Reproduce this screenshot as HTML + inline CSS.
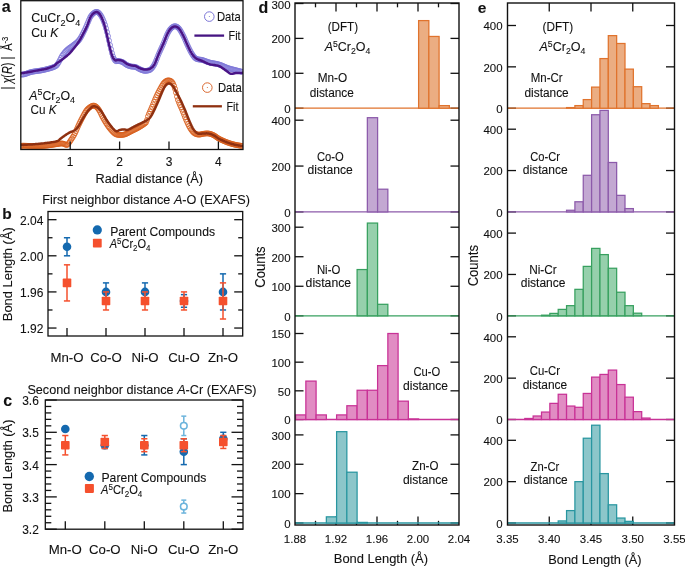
<!DOCTYPE html>
<html><head><meta charset="utf-8"><style>
html,body{margin:0;padding:0;background:#fff;width:685px;height:567px;overflow:hidden}
svg{display:block;will-change:transform}
text{font-family:"Liberation Sans",sans-serif;fill:#111;stroke:#111;stroke-width:0.1px}
</style></head><body>
<svg width="685" height="567" viewBox="0 0 685 567">
<defs><clipPath id="clipa"><rect x="20.8" y="0.7" width="222.2" height="148.8"/></clipPath></defs>
<rect width="685" height="567" fill="#fff"/>
<text x="1.8" y="11.8" font-size="16" font-weight="bold">a</text>
<text x="2.2" y="218.8" font-size="15.5" font-weight="bold">b</text>
<text x="3.2" y="406" font-size="16" font-weight="bold">c</text>
<text x="258.4" y="12.9" font-size="16" font-weight="bold">d</text>
<text x="477.8" y="13.1" font-size="15.5" font-weight="bold">e</text>
<g clip-path="url(#clipa)">
<circle cx="21" cy="74.5" r="2.5" fill="none" stroke="#8078d8" stroke-width="0.85"/>
<circle cx="22" cy="74.54" r="2.5" fill="none" stroke="#8078d8" stroke-width="0.85"/>
<circle cx="23" cy="74.53" r="2.5" fill="none" stroke="#8078d8" stroke-width="0.85"/>
<circle cx="24" cy="74.39" r="2.5" fill="none" stroke="#8078d8" stroke-width="0.85"/>
<circle cx="25" cy="74.13" r="2.5" fill="none" stroke="#8078d8" stroke-width="0.85"/>
<circle cx="26" cy="73.79" r="2.5" fill="none" stroke="#8078d8" stroke-width="0.85"/>
<circle cx="27" cy="73.41" r="2.5" fill="none" stroke="#8078d8" stroke-width="0.85"/>
<circle cx="28" cy="73.03" r="2.5" fill="none" stroke="#8078d8" stroke-width="0.85"/>
<circle cx="29" cy="72.67" r="2.5" fill="none" stroke="#8078d8" stroke-width="0.85"/>
<circle cx="30" cy="72.35" r="2.5" fill="none" stroke="#8078d8" stroke-width="0.85"/>
<circle cx="31" cy="72.07" r="2.5" fill="none" stroke="#8078d8" stroke-width="0.85"/>
<circle cx="32" cy="71.84" r="2.5" fill="none" stroke="#8078d8" stroke-width="0.85"/>
<circle cx="33" cy="71.64" r="2.5" fill="none" stroke="#8078d8" stroke-width="0.85"/>
<circle cx="34" cy="71.48" r="2.5" fill="none" stroke="#8078d8" stroke-width="0.85"/>
<circle cx="35" cy="71.33" r="2.5" fill="none" stroke="#8078d8" stroke-width="0.85"/>
<circle cx="36" cy="71.19" r="2.5" fill="none" stroke="#8078d8" stroke-width="0.85"/>
<circle cx="37" cy="71.06" r="2.5" fill="none" stroke="#8078d8" stroke-width="0.85"/>
<circle cx="38" cy="70.92" r="2.5" fill="none" stroke="#8078d8" stroke-width="0.85"/>
<circle cx="39" cy="70.78" r="2.5" fill="none" stroke="#8078d8" stroke-width="0.85"/>
<circle cx="40" cy="70.63" r="2.5" fill="none" stroke="#8078d8" stroke-width="0.85"/>
<circle cx="41" cy="70.47" r="2.5" fill="none" stroke="#8078d8" stroke-width="0.85"/>
<circle cx="42" cy="70.29" r="2.5" fill="none" stroke="#8078d8" stroke-width="0.85"/>
<circle cx="43" cy="70.09" r="2.5" fill="none" stroke="#8078d8" stroke-width="0.85"/>
<circle cx="44" cy="69.86" r="2.5" fill="none" stroke="#8078d8" stroke-width="0.85"/>
<circle cx="45" cy="69.62" r="2.5" fill="none" stroke="#8078d8" stroke-width="0.85"/>
<circle cx="46" cy="69.38" r="2.5" fill="none" stroke="#8078d8" stroke-width="0.85"/>
<circle cx="47" cy="69.13" r="2.5" fill="none" stroke="#8078d8" stroke-width="0.85"/>
<circle cx="48" cy="68.87" r="2.5" fill="none" stroke="#8078d8" stroke-width="0.85"/>
<circle cx="49" cy="68.6" r="2.5" fill="none" stroke="#8078d8" stroke-width="0.85"/>
<circle cx="50" cy="68.32" r="2.5" fill="none" stroke="#8078d8" stroke-width="0.85"/>
<circle cx="51" cy="68.02" r="2.5" fill="none" stroke="#8078d8" stroke-width="0.85"/>
<circle cx="52" cy="67.7" r="2.5" fill="none" stroke="#8078d8" stroke-width="0.85"/>
<circle cx="53" cy="67.35" r="2.5" fill="none" stroke="#8078d8" stroke-width="0.85"/>
<circle cx="54" cy="66.96" r="2.5" fill="none" stroke="#8078d8" stroke-width="0.85"/>
<circle cx="55" cy="66.5" r="2.5" fill="none" stroke="#8078d8" stroke-width="0.85"/>
<circle cx="56" cy="65.89" r="2.5" fill="none" stroke="#8078d8" stroke-width="0.85"/>
<circle cx="57" cy="65.01" r="2.5" fill="none" stroke="#8078d8" stroke-width="0.85"/>
<circle cx="58" cy="63.48" r="2.5" fill="none" stroke="#8078d8" stroke-width="0.85"/>
<circle cx="59" cy="61.78" r="2.5" fill="none" stroke="#8078d8" stroke-width="0.85"/>
<circle cx="60" cy="59.91" r="2.5" fill="none" stroke="#8078d8" stroke-width="0.85"/>
<circle cx="61" cy="57.82" r="2.5" fill="none" stroke="#8078d8" stroke-width="0.85"/>
<circle cx="62" cy="56" r="2.5" fill="none" stroke="#8078d8" stroke-width="0.85"/>
<circle cx="63" cy="54.54" r="2.5" fill="none" stroke="#8078d8" stroke-width="0.85"/>
<circle cx="64" cy="53.22" r="2.5" fill="none" stroke="#8078d8" stroke-width="0.85"/>
<circle cx="65" cy="52.01" r="2.5" fill="none" stroke="#8078d8" stroke-width="0.85"/>
<circle cx="66" cy="50.9" r="2.5" fill="none" stroke="#8078d8" stroke-width="0.85"/>
<circle cx="67" cy="49.92" r="2.5" fill="none" stroke="#8078d8" stroke-width="0.85"/>
<circle cx="68" cy="49.08" r="2.5" fill="none" stroke="#8078d8" stroke-width="0.85"/>
<circle cx="69" cy="48.31" r="2.5" fill="none" stroke="#8078d8" stroke-width="0.85"/>
<circle cx="70" cy="47.56" r="2.5" fill="none" stroke="#8078d8" stroke-width="0.85"/>
<circle cx="71" cy="46.89" r="2.5" fill="none" stroke="#8078d8" stroke-width="0.85"/>
<circle cx="72" cy="46.2" r="2.5" fill="none" stroke="#8078d8" stroke-width="0.85"/>
<circle cx="73" cy="45.42" r="2.5" fill="none" stroke="#8078d8" stroke-width="0.85"/>
<circle cx="74" cy="44.64" r="2.5" fill="none" stroke="#8078d8" stroke-width="0.85"/>
<circle cx="75" cy="43.88" r="2.5" fill="none" stroke="#8078d8" stroke-width="0.85"/>
<circle cx="76" cy="43.09" r="2.5" fill="none" stroke="#8078d8" stroke-width="0.85"/>
<circle cx="77" cy="42.24" r="2.5" fill="none" stroke="#8078d8" stroke-width="0.85"/>
<circle cx="78" cy="41.27" r="2.5" fill="none" stroke="#8078d8" stroke-width="0.85"/>
<circle cx="79" cy="40.12" r="2.5" fill="none" stroke="#8078d8" stroke-width="0.85"/>
<circle cx="80" cy="38.71" r="2.5" fill="none" stroke="#8078d8" stroke-width="0.85"/>
<circle cx="81" cy="37.07" r="2.5" fill="none" stroke="#8078d8" stroke-width="0.85"/>
<circle cx="82" cy="35.25" r="2.5" fill="none" stroke="#8078d8" stroke-width="0.85"/>
<circle cx="83" cy="33.31" r="2.5" fill="none" stroke="#8078d8" stroke-width="0.85"/>
<circle cx="84" cy="31.3" r="2.5" fill="none" stroke="#8078d8" stroke-width="0.85"/>
<circle cx="85" cy="29.26" r="2.5" fill="none" stroke="#8078d8" stroke-width="0.85"/>
<circle cx="86" cy="27" r="2.5" fill="none" stroke="#8078d8" stroke-width="0.85"/>
<circle cx="87" cy="24.59" r="2.5" fill="none" stroke="#8078d8" stroke-width="0.85"/>
<circle cx="88" cy="22.27" r="2.5" fill="none" stroke="#8078d8" stroke-width="0.85"/>
<circle cx="89" cy="19.87" r="2.5" fill="none" stroke="#8078d8" stroke-width="0.85"/>
<circle cx="90" cy="17.59" r="2.5" fill="none" stroke="#8078d8" stroke-width="0.85"/>
<circle cx="91" cy="15.94" r="2.5" fill="none" stroke="#8078d8" stroke-width="0.85"/>
<circle cx="92" cy="14.73" r="2.5" fill="none" stroke="#8078d8" stroke-width="0.85"/>
<circle cx="93" cy="13.71" r="2.5" fill="none" stroke="#8078d8" stroke-width="0.85"/>
<circle cx="94" cy="12.86" r="2.5" fill="none" stroke="#8078d8" stroke-width="0.85"/>
<circle cx="95" cy="12.21" r="2.5" fill="none" stroke="#8078d8" stroke-width="0.85"/>
<circle cx="96" cy="11.84" r="2.5" fill="none" stroke="#8078d8" stroke-width="0.85"/>
<circle cx="97" cy="11.86" r="2.5" fill="none" stroke="#8078d8" stroke-width="0.85"/>
<circle cx="98" cy="12.29" r="2.5" fill="none" stroke="#8078d8" stroke-width="0.85"/>
<circle cx="99" cy="13.11" r="2.5" fill="none" stroke="#8078d8" stroke-width="0.85"/>
<circle cx="100" cy="14.24" r="2.5" fill="none" stroke="#8078d8" stroke-width="0.85"/>
<circle cx="101" cy="15.65" r="2.5" fill="none" stroke="#8078d8" stroke-width="0.85"/>
<circle cx="102" cy="17.45" r="2.5" fill="none" stroke="#8078d8" stroke-width="0.85"/>
<circle cx="103" cy="19.62" r="2.5" fill="none" stroke="#8078d8" stroke-width="0.85"/>
<circle cx="104" cy="22.1" r="2.5" fill="none" stroke="#8078d8" stroke-width="0.85"/>
<circle cx="105" cy="24.94" r="2.5" fill="none" stroke="#8078d8" stroke-width="0.85"/>
<circle cx="106" cy="28.34" r="2.5" fill="none" stroke="#8078d8" stroke-width="0.85"/>
<circle cx="107" cy="32.13" r="2.5" fill="none" stroke="#8078d8" stroke-width="0.85"/>
<circle cx="108" cy="36.2" r="2.5" fill="none" stroke="#8078d8" stroke-width="0.85"/>
<circle cx="109" cy="40.66" r="2.5" fill="none" stroke="#8078d8" stroke-width="0.85"/>
<circle cx="110" cy="45.07" r="2.5" fill="none" stroke="#8078d8" stroke-width="0.85"/>
<circle cx="111" cy="49.2" r="2.5" fill="none" stroke="#8078d8" stroke-width="0.85"/>
<circle cx="112" cy="53.17" r="2.5" fill="none" stroke="#8078d8" stroke-width="0.85"/>
<circle cx="113" cy="56.5" r="2.5" fill="none" stroke="#8078d8" stroke-width="0.85"/>
<circle cx="114" cy="58.83" r="2.5" fill="none" stroke="#8078d8" stroke-width="0.85"/>
<circle cx="115" cy="60.37" r="2.5" fill="none" stroke="#8078d8" stroke-width="0.85"/>
<circle cx="116" cy="61.25" r="2.5" fill="none" stroke="#8078d8" stroke-width="0.85"/>
<circle cx="117" cy="61.11" r="2.5" fill="none" stroke="#8078d8" stroke-width="0.85"/>
<circle cx="118" cy="61" r="2.5" fill="none" stroke="#8078d8" stroke-width="0.85"/>
<circle cx="119" cy="61.14" r="2.5" fill="none" stroke="#8078d8" stroke-width="0.85"/>
<circle cx="120" cy="61.3" r="2.5" fill="none" stroke="#8078d8" stroke-width="0.85"/>
<circle cx="121" cy="61.52" r="2.5" fill="none" stroke="#8078d8" stroke-width="0.85"/>
<circle cx="122" cy="61.83" r="2.5" fill="none" stroke="#8078d8" stroke-width="0.85"/>
<circle cx="123" cy="62.32" r="2.5" fill="none" stroke="#8078d8" stroke-width="0.85"/>
<circle cx="124" cy="63.01" r="2.5" fill="none" stroke="#8078d8" stroke-width="0.85"/>
<circle cx="125" cy="63.78" r="2.5" fill="none" stroke="#8078d8" stroke-width="0.85"/>
<circle cx="126" cy="64.51" r="2.5" fill="none" stroke="#8078d8" stroke-width="0.85"/>
<circle cx="127" cy="65.1" r="2.5" fill="none" stroke="#8078d8" stroke-width="0.85"/>
<circle cx="128" cy="65.55" r="2.5" fill="none" stroke="#8078d8" stroke-width="0.85"/>
<circle cx="129" cy="65.92" r="2.5" fill="none" stroke="#8078d8" stroke-width="0.85"/>
<circle cx="130" cy="66.22" r="2.5" fill="none" stroke="#8078d8" stroke-width="0.85"/>
<circle cx="131" cy="66.48" r="2.5" fill="none" stroke="#8078d8" stroke-width="0.85"/>
<circle cx="132" cy="66.64" r="2.5" fill="none" stroke="#8078d8" stroke-width="0.85"/>
<circle cx="133" cy="66.69" r="2.5" fill="none" stroke="#8078d8" stroke-width="0.85"/>
<circle cx="134" cy="66.74" r="2.5" fill="none" stroke="#8078d8" stroke-width="0.85"/>
<circle cx="135" cy="66.87" r="2.5" fill="none" stroke="#8078d8" stroke-width="0.85"/>
<circle cx="136" cy="67.19" r="2.5" fill="none" stroke="#8078d8" stroke-width="0.85"/>
<circle cx="137" cy="67.68" r="2.5" fill="none" stroke="#8078d8" stroke-width="0.85"/>
<circle cx="138" cy="68.27" r="2.5" fill="none" stroke="#8078d8" stroke-width="0.85"/>
<circle cx="139" cy="68.85" r="2.5" fill="none" stroke="#8078d8" stroke-width="0.85"/>
<circle cx="140" cy="69.34" r="2.5" fill="none" stroke="#8078d8" stroke-width="0.85"/>
<circle cx="141" cy="69.77" r="2.5" fill="none" stroke="#8078d8" stroke-width="0.85"/>
<circle cx="142" cy="70.16" r="2.5" fill="none" stroke="#8078d8" stroke-width="0.85"/>
<circle cx="143" cy="70.5" r="2.5" fill="none" stroke="#8078d8" stroke-width="0.85"/>
<circle cx="144" cy="70.75" r="2.5" fill="none" stroke="#8078d8" stroke-width="0.85"/>
<circle cx="145" cy="70.86" r="2.5" fill="none" stroke="#8078d8" stroke-width="0.85"/>
<circle cx="146" cy="70.84" r="2.5" fill="none" stroke="#8078d8" stroke-width="0.85"/>
<circle cx="147" cy="70.71" r="2.5" fill="none" stroke="#8078d8" stroke-width="0.85"/>
<circle cx="148" cy="70.5" r="2.5" fill="none" stroke="#8078d8" stroke-width="0.85"/>
<circle cx="149" cy="70.3" r="2.5" fill="none" stroke="#8078d8" stroke-width="0.85"/>
<circle cx="150" cy="69.92" r="2.5" fill="none" stroke="#8078d8" stroke-width="0.85"/>
<circle cx="151" cy="69.11" r="2.5" fill="none" stroke="#8078d8" stroke-width="0.85"/>
<circle cx="152" cy="68.05" r="2.5" fill="none" stroke="#8078d8" stroke-width="0.85"/>
<circle cx="153" cy="66.75" r="2.5" fill="none" stroke="#8078d8" stroke-width="0.85"/>
<circle cx="154" cy="65.14" r="2.5" fill="none" stroke="#8078d8" stroke-width="0.85"/>
<circle cx="155" cy="63.14" r="2.5" fill="none" stroke="#8078d8" stroke-width="0.85"/>
<circle cx="156" cy="60.78" r="2.5" fill="none" stroke="#8078d8" stroke-width="0.85"/>
<circle cx="157" cy="58.25" r="2.5" fill="none" stroke="#8078d8" stroke-width="0.85"/>
<circle cx="158" cy="55.73" r="2.5" fill="none" stroke="#8078d8" stroke-width="0.85"/>
<circle cx="159" cy="53.34" r="2.5" fill="none" stroke="#8078d8" stroke-width="0.85"/>
<circle cx="160" cy="51.12" r="2.5" fill="none" stroke="#8078d8" stroke-width="0.85"/>
<circle cx="161" cy="48.95" r="2.5" fill="none" stroke="#8078d8" stroke-width="0.85"/>
<circle cx="162" cy="46.78" r="2.5" fill="none" stroke="#8078d8" stroke-width="0.85"/>
<circle cx="163" cy="44.56" r="2.5" fill="none" stroke="#8078d8" stroke-width="0.85"/>
<circle cx="164" cy="42.18" r="2.5" fill="none" stroke="#8078d8" stroke-width="0.85"/>
<circle cx="165" cy="39.67" r="2.5" fill="none" stroke="#8078d8" stroke-width="0.85"/>
<circle cx="166" cy="37.15" r="2.5" fill="none" stroke="#8078d8" stroke-width="0.85"/>
<circle cx="167" cy="34.78" r="2.5" fill="none" stroke="#8078d8" stroke-width="0.85"/>
<circle cx="168" cy="32.72" r="2.5" fill="none" stroke="#8078d8" stroke-width="0.85"/>
<circle cx="169" cy="30.98" r="2.5" fill="none" stroke="#8078d8" stroke-width="0.85"/>
<circle cx="170" cy="29.54" r="2.5" fill="none" stroke="#8078d8" stroke-width="0.85"/>
<circle cx="171" cy="28.4" r="2.5" fill="none" stroke="#8078d8" stroke-width="0.85"/>
<circle cx="172" cy="27.48" r="2.5" fill="none" stroke="#8078d8" stroke-width="0.85"/>
<circle cx="173" cy="26.79" r="2.5" fill="none" stroke="#8078d8" stroke-width="0.85"/>
<circle cx="174" cy="26.34" r="2.5" fill="none" stroke="#8078d8" stroke-width="0.85"/>
<circle cx="175" cy="26.2" r="2.5" fill="none" stroke="#8078d8" stroke-width="0.85"/>
<circle cx="176" cy="26.37" r="2.5" fill="none" stroke="#8078d8" stroke-width="0.85"/>
<circle cx="177" cy="26.82" r="2.5" fill="none" stroke="#8078d8" stroke-width="0.85"/>
<circle cx="178" cy="27.56" r="2.5" fill="none" stroke="#8078d8" stroke-width="0.85"/>
<circle cx="179" cy="28.59" r="2.5" fill="none" stroke="#8078d8" stroke-width="0.85"/>
<circle cx="180" cy="29.92" r="2.5" fill="none" stroke="#8078d8" stroke-width="0.85"/>
<circle cx="181" cy="31.54" r="2.5" fill="none" stroke="#8078d8" stroke-width="0.85"/>
<circle cx="182" cy="33.33" r="2.5" fill="none" stroke="#8078d8" stroke-width="0.85"/>
<circle cx="183" cy="35.23" r="2.5" fill="none" stroke="#8078d8" stroke-width="0.85"/>
<circle cx="184" cy="37.22" r="2.5" fill="none" stroke="#8078d8" stroke-width="0.85"/>
<circle cx="185" cy="39.47" r="2.5" fill="none" stroke="#8078d8" stroke-width="0.85"/>
<circle cx="186" cy="41.86" r="2.5" fill="none" stroke="#8078d8" stroke-width="0.85"/>
<circle cx="187" cy="44.1" r="2.5" fill="none" stroke="#8078d8" stroke-width="0.85"/>
<circle cx="188" cy="46.24" r="2.5" fill="none" stroke="#8078d8" stroke-width="0.85"/>
<circle cx="189" cy="48.35" r="2.5" fill="none" stroke="#8078d8" stroke-width="0.85"/>
<circle cx="190" cy="50.37" r="2.5" fill="none" stroke="#8078d8" stroke-width="0.85"/>
<circle cx="191" cy="52.22" r="2.5" fill="none" stroke="#8078d8" stroke-width="0.85"/>
<circle cx="192" cy="53.88" r="2.5" fill="none" stroke="#8078d8" stroke-width="0.85"/>
<circle cx="193" cy="55.46" r="2.5" fill="none" stroke="#8078d8" stroke-width="0.85"/>
<circle cx="194" cy="56.83" r="2.5" fill="none" stroke="#8078d8" stroke-width="0.85"/>
<circle cx="195" cy="57.89" r="2.5" fill="none" stroke="#8078d8" stroke-width="0.85"/>
<circle cx="196" cy="58.66" r="2.5" fill="none" stroke="#8078d8" stroke-width="0.85"/>
<circle cx="197" cy="59.12" r="2.5" fill="none" stroke="#8078d8" stroke-width="0.85"/>
<circle cx="198" cy="59.37" r="2.5" fill="none" stroke="#8078d8" stroke-width="0.85"/>
<circle cx="199" cy="59.51" r="2.5" fill="none" stroke="#8078d8" stroke-width="0.85"/>
<circle cx="200" cy="59.61" r="2.5" fill="none" stroke="#8078d8" stroke-width="0.85"/>
<circle cx="201" cy="59.73" r="2.5" fill="none" stroke="#8078d8" stroke-width="0.85"/>
<circle cx="202" cy="59.93" r="2.5" fill="none" stroke="#8078d8" stroke-width="0.85"/>
<circle cx="203" cy="60.21" r="2.5" fill="none" stroke="#8078d8" stroke-width="0.85"/>
<circle cx="204" cy="60.56" r="2.5" fill="none" stroke="#8078d8" stroke-width="0.85"/>
<circle cx="205" cy="60.93" r="2.5" fill="none" stroke="#8078d8" stroke-width="0.85"/>
<circle cx="206" cy="61.3" r="2.5" fill="none" stroke="#8078d8" stroke-width="0.85"/>
<circle cx="207" cy="61.67" r="2.5" fill="none" stroke="#8078d8" stroke-width="0.85"/>
<circle cx="208" cy="62.02" r="2.5" fill="none" stroke="#8078d8" stroke-width="0.85"/>
<circle cx="209" cy="62.33" r="2.5" fill="none" stroke="#8078d8" stroke-width="0.85"/>
<circle cx="210" cy="62.6" r="2.5" fill="none" stroke="#8078d8" stroke-width="0.85"/>
<circle cx="211" cy="62.83" r="2.5" fill="none" stroke="#8078d8" stroke-width="0.85"/>
<circle cx="212" cy="63.03" r="2.5" fill="none" stroke="#8078d8" stroke-width="0.85"/>
<circle cx="213" cy="63.21" r="2.5" fill="none" stroke="#8078d8" stroke-width="0.85"/>
<circle cx="214" cy="63.39" r="2.5" fill="none" stroke="#8078d8" stroke-width="0.85"/>
<circle cx="215" cy="63.57" r="2.5" fill="none" stroke="#8078d8" stroke-width="0.85"/>
<circle cx="216" cy="63.76" r="2.5" fill="none" stroke="#8078d8" stroke-width="0.85"/>
<circle cx="217" cy="63.97" r="2.5" fill="none" stroke="#8078d8" stroke-width="0.85"/>
<circle cx="218" cy="64.2" r="2.5" fill="none" stroke="#8078d8" stroke-width="0.85"/>
<circle cx="219" cy="64.47" r="2.5" fill="none" stroke="#8078d8" stroke-width="0.85"/>
<circle cx="220" cy="64.79" r="2.5" fill="none" stroke="#8078d8" stroke-width="0.85"/>
<circle cx="221" cy="65.16" r="2.5" fill="none" stroke="#8078d8" stroke-width="0.85"/>
<circle cx="222" cy="65.57" r="2.5" fill="none" stroke="#8078d8" stroke-width="0.85"/>
<circle cx="223" cy="65.99" r="2.5" fill="none" stroke="#8078d8" stroke-width="0.85"/>
<circle cx="224" cy="66.43" r="2.5" fill="none" stroke="#8078d8" stroke-width="0.85"/>
<circle cx="225" cy="66.87" r="2.5" fill="none" stroke="#8078d8" stroke-width="0.85"/>
<circle cx="226" cy="67.3" r="2.5" fill="none" stroke="#8078d8" stroke-width="0.85"/>
<circle cx="227" cy="67.71" r="2.5" fill="none" stroke="#8078d8" stroke-width="0.85"/>
<circle cx="228" cy="68.07" r="2.5" fill="none" stroke="#8078d8" stroke-width="0.85"/>
<circle cx="229" cy="68.39" r="2.5" fill="none" stroke="#8078d8" stroke-width="0.85"/>
<circle cx="230" cy="68.69" r="2.5" fill="none" stroke="#8078d8" stroke-width="0.85"/>
<circle cx="231" cy="68.96" r="2.5" fill="none" stroke="#8078d8" stroke-width="0.85"/>
<circle cx="232" cy="69.22" r="2.5" fill="none" stroke="#8078d8" stroke-width="0.85"/>
<circle cx="233" cy="69.47" r="2.5" fill="none" stroke="#8078d8" stroke-width="0.85"/>
<circle cx="234" cy="69.72" r="2.5" fill="none" stroke="#8078d8" stroke-width="0.85"/>
<circle cx="235" cy="69.97" r="2.5" fill="none" stroke="#8078d8" stroke-width="0.85"/>
<circle cx="236" cy="70.24" r="2.5" fill="none" stroke="#8078d8" stroke-width="0.85"/>
<circle cx="237" cy="70.5" r="2.5" fill="none" stroke="#8078d8" stroke-width="0.85"/>
<circle cx="238" cy="70.76" r="2.5" fill="none" stroke="#8078d8" stroke-width="0.85"/>
<circle cx="239" cy="71.01" r="2.5" fill="none" stroke="#8078d8" stroke-width="0.85"/>
<circle cx="240" cy="71.27" r="2.5" fill="none" stroke="#8078d8" stroke-width="0.85"/>
<circle cx="241" cy="71.52" r="2.5" fill="none" stroke="#8078d8" stroke-width="0.85"/>
<circle cx="242" cy="71.78" r="2.5" fill="none" stroke="#8078d8" stroke-width="0.85"/>
<path d="M21,73.2 L21.16,73.19 L21.31,73.18 L21.46,73.17 L21.65,73.16 L21.88,73.15 L22.18,73.12 L22.56,73.08 L23.04,73.01 L23.65,72.92 L24.4,72.8 L25.34,72.64 L26.47,72.44 L27.75,72.2 L29.15,71.95 L30.61,71.68 L32.1,71.41 L33.58,71.13 L35,70.87 L36.32,70.62 L37.5,70.4 L38.56,70.21 L39.55,70.03 L40.49,69.88 L41.39,69.73 L42.24,69.58 L43.07,69.43 L43.88,69.28 L44.69,69.11 L45.49,68.92 L46.3,68.7 L47.13,68.46 L47.97,68.19 L48.81,67.91 L49.64,67.61 L50.46,67.31 L51.24,67 L51.99,66.69 L52.69,66.38 L53.33,66.08 L53.9,65.8 L54.38,65.54 L54.76,65.29 L55.06,65.05 L55.32,64.82 L55.54,64.59 L55.75,64.36 L55.98,64.1 L56.25,63.83 L56.58,63.53 L57,63.2 L57.49,62.84 L58.04,62.45 L58.63,62.04 L59.26,61.61 L59.91,61.17 L60.57,60.71 L61.24,60.24 L61.91,59.77 L62.57,59.28 L63.2,58.8 L63.82,58.31 L64.45,57.81 L65.09,57.3 L65.72,56.79 L66.36,56.26 L66.98,55.73 L67.61,55.18 L68.22,54.63 L68.82,54.07 L69.4,53.5 L69.97,52.92 L70.53,52.32 L71.08,51.71 L71.63,51.08 L72.16,50.46 L72.69,49.82 L73.2,49.19 L73.71,48.55 L74.21,47.92 L74.7,47.3 L75.18,46.69 L75.64,46.09 L76.09,45.49 L76.52,44.9 L76.96,44.31 L77.38,43.7 L77.81,43.08 L78.23,42.45 L78.66,41.79 L79.1,41.1 L79.54,40.37 L79.99,39.61 L80.45,38.83 L80.9,38.02 L81.36,37.2 L81.8,36.38 L82.25,35.56 L82.68,34.75 L83.1,33.96 L83.5,33.2 L83.88,32.48 L84.25,31.79 L84.6,31.13 L84.94,30.48 L85.27,29.84 L85.6,29.18 L85.93,28.5 L86.28,27.78 L86.63,27.02 L87,26.2 L87.38,25.29 L87.77,24.28 L88.15,23.21 L88.55,22.1 L88.95,20.97 L89.36,19.86 L89.78,18.79 L90.21,17.79 L90.65,16.88 L91.1,16.1 L91.57,15.42 L92.07,14.78 L92.59,14.21 L93.12,13.69 L93.66,13.24 L94.19,12.85 L94.72,12.53 L95.23,12.28 L95.73,12.1 L96.2,12 L96.65,11.98 L97.08,12.05 L97.5,12.19 L97.9,12.41 L98.3,12.69 L98.69,13.04 L99.07,13.43 L99.45,13.88 L99.83,14.37 L100.2,14.9 L100.57,15.48 L100.94,16.14 L101.31,16.85 L101.67,17.62 L102.02,18.43 L102.37,19.28 L102.72,20.16 L103.05,21.06 L103.38,21.98 L103.7,22.9 L104.01,23.83 L104.3,24.79 L104.59,25.77 L104.87,26.78 L105.14,27.81 L105.41,28.87 L105.67,29.94 L105.94,31.04 L106.22,32.16 L106.5,33.3 L106.79,34.48 L107.07,35.72 L107.36,36.99 L107.65,38.29 L107.94,39.61 L108.24,40.92 L108.53,42.22 L108.82,43.49 L109.11,44.72 L109.4,45.9 L109.69,47.05 L109.98,48.21 L110.27,49.36 L110.56,50.49 L110.86,51.59 L111.15,52.64 L111.44,53.65 L111.73,54.58 L112.01,55.44 L112.3,56.2 L112.58,56.87 L112.86,57.47 L113.14,58 L113.42,58.46 L113.7,58.86 L113.98,59.2 L114.26,59.51 L114.54,59.77 L114.82,60 L115.1,60.2 L115.38,60.35 L115.65,60.41 L115.92,60.42 L116.18,60.37 L116.45,60.3 L116.73,60.21 L117.02,60.12 L117.32,60.04 L117.65,60 L118,60 L118.38,60.03 L118.78,60.06 L119.21,60.1 L119.65,60.14 L120.11,60.2 L120.57,60.27 L121.03,60.37 L121.5,60.48 L121.95,60.63 L122.4,60.8 L122.84,61.02 L123.28,61.28 L123.72,61.58 L124.16,61.91 L124.61,62.25 L125.05,62.6 L125.49,62.93 L125.93,63.25 L126.36,63.55 L126.8,63.8 L127.23,64.02 L127.66,64.23 L128.09,64.41 L128.52,64.59 L128.95,64.75 L129.38,64.9 L129.81,65.04 L130.24,65.17 L130.67,65.29 L131.1,65.4 L131.54,65.49 L131.97,65.56 L132.41,65.6 L132.85,65.64 L133.29,65.66 L133.74,65.69 L134.18,65.73 L134.62,65.79 L135.06,65.88 L135.5,66 L135.94,66.16 L136.38,66.35 L136.82,66.57 L137.26,66.81 L137.7,67.06 L138.14,67.31 L138.58,67.56 L139.02,67.79 L139.46,68.01 L139.9,68.2 L140.34,68.37 L140.79,68.54 L141.24,68.7 L141.69,68.86 L142.14,69 L142.59,69.13 L143.03,69.25 L143.46,69.35 L143.89,69.43 L144.3,69.5 L144.7,69.54 L145.1,69.57 L145.49,69.58 L145.87,69.57 L146.25,69.54 L146.62,69.51 L146.98,69.47 L147.33,69.42 L147.67,69.36 L148,69.3 L148.31,69.25 L148.6,69.2 L148.88,69.15 L149.15,69.1 L149.41,69.03 L149.67,68.95 L149.93,68.84 L150.2,68.7 L150.49,68.52 L150.8,68.3 L151.12,68.06 L151.46,67.81 L151.8,67.55 L152.14,67.27 L152.5,66.95 L152.86,66.58 L153.24,66.15 L153.62,65.66 L154,65.07 L154.4,64.4 L154.81,63.61 L155.23,62.69 L155.66,61.68 L156.1,60.6 L156.55,59.46 L157,58.3 L157.45,57.12 L157.91,55.97 L158.36,54.85 L158.8,53.8 L159.24,52.8 L159.68,51.82 L160.12,50.85 L160.56,49.9 L161,48.95 L161.44,48 L161.88,47.05 L162.32,46.08 L162.76,45.1 L163.2,44.1 L163.64,43.05 L164.09,41.95 L164.55,40.82 L165,39.67 L165.45,38.53 L165.9,37.4 L166.34,36.32 L166.77,35.3 L167.19,34.35 L167.6,33.5 L167.99,32.74 L168.37,32.04 L168.73,31.41 L169.08,30.83 L169.43,30.29 L169.78,29.81 L170.12,29.36 L170.47,28.94 L170.83,28.56 L171.2,28.2 L171.58,27.87 L171.96,27.57 L172.34,27.3 L172.73,27.07 L173.12,26.88 L173.52,26.73 L173.91,26.61 L174.31,26.53 L174.7,26.5 L175.1,26.5 L175.49,26.54 L175.89,26.61 L176.28,26.71 L176.67,26.84 L177.07,27.02 L177.47,27.25 L177.87,27.53 L178.27,27.86 L178.68,28.25 L179.1,28.7 L179.53,29.23 L179.97,29.85 L180.42,30.55 L180.87,31.3 L181.33,32.09 L181.79,32.92 L182.23,33.75 L182.67,34.59 L183.09,35.41 L183.5,36.2 L183.88,36.97 L184.24,37.74 L184.59,38.51 L184.92,39.29 L185.25,40.07 L185.58,40.86 L185.91,41.65 L186.26,42.46 L186.62,43.27 L187,44.1 L187.4,44.96 L187.82,45.86 L188.25,46.78 L188.69,47.72 L189.14,48.66 L189.59,49.59 L190.04,50.49 L190.5,51.35 L190.95,52.16 L191.4,52.9 L191.84,53.58 L192.26,54.22 L192.68,54.83 L193.1,55.39 L193.53,55.92 L193.96,56.43 L194.41,56.9 L194.88,57.36 L195.37,57.79 L195.9,58.2 L196.46,58.58 L197.04,58.91 L197.65,59.21 L198.28,59.48 L198.93,59.73 L199.58,59.97 L200.25,60.21 L200.93,60.45 L201.61,60.72 L202.3,61 L202.98,61.31 L203.67,61.64 L204.35,61.97 L205.05,62.31 L205.76,62.66 L206.48,62.99 L207.22,63.32 L207.98,63.64 L208.78,63.93 L209.6,64.2 L210.47,64.43 L211.41,64.62 L212.38,64.79 L213.38,64.94 L214.39,65.08 L215.4,65.23 L216.39,65.39 L217.35,65.59 L218.26,65.82 L219.1,66.1 L219.88,66.44 L220.63,66.82 L221.34,67.25 L222.02,67.7 L222.68,68.16 L223.31,68.64 L223.92,69.11 L224.52,69.57 L225.11,70 L225.7,70.4 L226.27,70.79 L226.82,71.19 L227.34,71.59 L227.85,71.98 L228.34,72.36 L228.83,72.72 L229.32,73.04 L229.8,73.31 L230.3,73.54 L230.8,73.7 L231.31,73.79 L231.83,73.8 L232.35,73.76 L232.87,73.67 L233.39,73.56 L233.91,73.42 L234.42,73.28 L234.92,73.16 L235.42,73.06 L235.9,73 L236.38,72.97 L236.85,72.96 L237.33,72.95 L237.79,72.96 L238.25,72.97 L238.7,72.98 L239.13,72.99 L239.54,73 L239.93,73 L240.3,73 L240.65,72.99 L240.99,72.97 L241.32,72.95 L241.63,72.92 L241.93,72.9 L242.2,72.88 L242.44,72.85 L242.66,72.83 L242.85,72.81 L243,72.8" fill="none" stroke="#4a1486" stroke-width="2.5" stroke-linejoin="round" stroke-linecap="round"/>
<circle cx="21" cy="146" r="2.5" fill="none" stroke="#d8601e" stroke-width="0.85"/>
<circle cx="22" cy="145.72" r="2.5" fill="none" stroke="#d8601e" stroke-width="0.85"/>
<circle cx="23" cy="145.7" r="2.5" fill="none" stroke="#d8601e" stroke-width="0.85"/>
<circle cx="24" cy="145.72" r="2.5" fill="none" stroke="#d8601e" stroke-width="0.85"/>
<circle cx="25" cy="145.74" r="2.5" fill="none" stroke="#d8601e" stroke-width="0.85"/>
<circle cx="26" cy="145.77" r="2.5" fill="none" stroke="#d8601e" stroke-width="0.85"/>
<circle cx="27" cy="145.81" r="2.5" fill="none" stroke="#d8601e" stroke-width="0.85"/>
<circle cx="28" cy="145.84" r="2.5" fill="none" stroke="#d8601e" stroke-width="0.85"/>
<circle cx="29" cy="145.88" r="2.5" fill="none" stroke="#d8601e" stroke-width="0.85"/>
<circle cx="30" cy="145.91" r="2.5" fill="none" stroke="#d8601e" stroke-width="0.85"/>
<circle cx="31" cy="145.94" r="2.5" fill="none" stroke="#d8601e" stroke-width="0.85"/>
<circle cx="32" cy="145.96" r="2.5" fill="none" stroke="#d8601e" stroke-width="0.85"/>
<circle cx="33" cy="145.98" r="2.5" fill="none" stroke="#d8601e" stroke-width="0.85"/>
<circle cx="34" cy="146" r="2.5" fill="none" stroke="#d8601e" stroke-width="0.85"/>
<circle cx="35" cy="146" r="2.5" fill="none" stroke="#d8601e" stroke-width="0.85"/>
<circle cx="36" cy="146" r="2.5" fill="none" stroke="#d8601e" stroke-width="0.85"/>
<circle cx="37" cy="146" r="2.5" fill="none" stroke="#d8601e" stroke-width="0.85"/>
<circle cx="38" cy="145.99" r="2.5" fill="none" stroke="#d8601e" stroke-width="0.85"/>
<circle cx="39" cy="145.98" r="2.5" fill="none" stroke="#d8601e" stroke-width="0.85"/>
<circle cx="40" cy="145.96" r="2.5" fill="none" stroke="#d8601e" stroke-width="0.85"/>
<circle cx="41" cy="145.94" r="2.5" fill="none" stroke="#d8601e" stroke-width="0.85"/>
<circle cx="42" cy="145.91" r="2.5" fill="none" stroke="#d8601e" stroke-width="0.85"/>
<circle cx="43" cy="145.86" r="2.5" fill="none" stroke="#d8601e" stroke-width="0.85"/>
<circle cx="44" cy="145.81" r="2.5" fill="none" stroke="#d8601e" stroke-width="0.85"/>
<circle cx="45" cy="145.74" r="2.5" fill="none" stroke="#d8601e" stroke-width="0.85"/>
<circle cx="46" cy="145.65" r="2.5" fill="none" stroke="#d8601e" stroke-width="0.85"/>
<circle cx="47" cy="145.55" r="2.5" fill="none" stroke="#d8601e" stroke-width="0.85"/>
<circle cx="48" cy="145.44" r="2.5" fill="none" stroke="#d8601e" stroke-width="0.85"/>
<circle cx="49" cy="145.31" r="2.5" fill="none" stroke="#d8601e" stroke-width="0.85"/>
<circle cx="50" cy="145.17" r="2.5" fill="none" stroke="#d8601e" stroke-width="0.85"/>
<circle cx="51" cy="145.02" r="2.5" fill="none" stroke="#d8601e" stroke-width="0.85"/>
<circle cx="52" cy="144.87" r="2.5" fill="none" stroke="#d8601e" stroke-width="0.85"/>
<circle cx="53" cy="144.72" r="2.5" fill="none" stroke="#d8601e" stroke-width="0.85"/>
<circle cx="54" cy="144.56" r="2.5" fill="none" stroke="#d8601e" stroke-width="0.85"/>
<circle cx="55" cy="144.41" r="2.5" fill="none" stroke="#d8601e" stroke-width="0.85"/>
<circle cx="56" cy="144.27" r="2.5" fill="none" stroke="#d8601e" stroke-width="0.85"/>
<circle cx="57" cy="144.13" r="2.5" fill="none" stroke="#d8601e" stroke-width="0.85"/>
<circle cx="58" cy="143.98" r="2.5" fill="none" stroke="#d8601e" stroke-width="0.85"/>
<circle cx="59" cy="143.8" r="2.5" fill="none" stroke="#d8601e" stroke-width="0.85"/>
<circle cx="60" cy="143.63" r="2.5" fill="none" stroke="#d8601e" stroke-width="0.85"/>
<circle cx="61" cy="143.51" r="2.5" fill="none" stroke="#d8601e" stroke-width="0.85"/>
<circle cx="62" cy="143.49" r="2.5" fill="none" stroke="#d8601e" stroke-width="0.85"/>
<circle cx="63" cy="143.62" r="2.5" fill="none" stroke="#d8601e" stroke-width="0.85"/>
<circle cx="64" cy="143.95" r="2.5" fill="none" stroke="#d8601e" stroke-width="0.85"/>
<circle cx="65" cy="144.39" r="2.5" fill="none" stroke="#d8601e" stroke-width="0.85"/>
<circle cx="66" cy="144.82" r="2.5" fill="none" stroke="#d8601e" stroke-width="0.85"/>
<circle cx="67" cy="144.99" r="2.5" fill="none" stroke="#d8601e" stroke-width="0.85"/>
<circle cx="68" cy="144.23" r="2.5" fill="none" stroke="#d8601e" stroke-width="0.85"/>
<circle cx="69" cy="142.87" r="2.5" fill="none" stroke="#d8601e" stroke-width="0.85"/>
<circle cx="70" cy="141.43" r="2.5" fill="none" stroke="#d8601e" stroke-width="0.85"/>
<circle cx="71" cy="139.89" r="2.5" fill="none" stroke="#d8601e" stroke-width="0.85"/>
<circle cx="72" cy="138.35" r="2.5" fill="none" stroke="#d8601e" stroke-width="0.85"/>
<circle cx="73" cy="136.78" r="2.5" fill="none" stroke="#d8601e" stroke-width="0.85"/>
<circle cx="74" cy="135.09" r="2.5" fill="none" stroke="#d8601e" stroke-width="0.85"/>
<circle cx="75" cy="133.2" r="2.5" fill="none" stroke="#d8601e" stroke-width="0.85"/>
<circle cx="76" cy="131.03" r="2.5" fill="none" stroke="#d8601e" stroke-width="0.85"/>
<circle cx="77" cy="128.72" r="2.5" fill="none" stroke="#d8601e" stroke-width="0.85"/>
<circle cx="78" cy="126.42" r="2.5" fill="none" stroke="#d8601e" stroke-width="0.85"/>
<circle cx="79" cy="124.26" r="2.5" fill="none" stroke="#d8601e" stroke-width="0.85"/>
<circle cx="80" cy="122.19" r="2.5" fill="none" stroke="#d8601e" stroke-width="0.85"/>
<circle cx="81" cy="120.19" r="2.5" fill="none" stroke="#d8601e" stroke-width="0.85"/>
<circle cx="82" cy="118.25" r="2.5" fill="none" stroke="#d8601e" stroke-width="0.85"/>
<circle cx="83" cy="116.36" r="2.5" fill="none" stroke="#d8601e" stroke-width="0.85"/>
<circle cx="84" cy="114.47" r="2.5" fill="none" stroke="#d8601e" stroke-width="0.85"/>
<circle cx="85" cy="112.67" r="2.5" fill="none" stroke="#d8601e" stroke-width="0.85"/>
<circle cx="86" cy="111.06" r="2.5" fill="none" stroke="#d8601e" stroke-width="0.85"/>
<circle cx="87" cy="109.76" r="2.5" fill="none" stroke="#d8601e" stroke-width="0.85"/>
<circle cx="88" cy="108.71" r="2.5" fill="none" stroke="#d8601e" stroke-width="0.85"/>
<circle cx="89" cy="107.86" r="2.5" fill="none" stroke="#d8601e" stroke-width="0.85"/>
<circle cx="90" cy="107.14" r="2.5" fill="none" stroke="#d8601e" stroke-width="0.85"/>
<circle cx="91" cy="106.49" r="2.5" fill="none" stroke="#d8601e" stroke-width="0.85"/>
<circle cx="92" cy="105.98" r="2.5" fill="none" stroke="#d8601e" stroke-width="0.85"/>
<circle cx="93" cy="105.66" r="2.5" fill="none" stroke="#d8601e" stroke-width="0.85"/>
<circle cx="94" cy="105.63" r="2.5" fill="none" stroke="#d8601e" stroke-width="0.85"/>
<circle cx="95" cy="105.95" r="2.5" fill="none" stroke="#d8601e" stroke-width="0.85"/>
<circle cx="96" cy="106.59" r="2.5" fill="none" stroke="#d8601e" stroke-width="0.85"/>
<circle cx="97" cy="107.46" r="2.5" fill="none" stroke="#d8601e" stroke-width="0.85"/>
<circle cx="98" cy="108.6" r="2.5" fill="none" stroke="#d8601e" stroke-width="0.85"/>
<circle cx="99" cy="110.02" r="2.5" fill="none" stroke="#d8601e" stroke-width="0.85"/>
<circle cx="100" cy="111.77" r="2.5" fill="none" stroke="#d8601e" stroke-width="0.85"/>
<circle cx="101" cy="113.84" r="2.5" fill="none" stroke="#d8601e" stroke-width="0.85"/>
<circle cx="102" cy="115.92" r="2.5" fill="none" stroke="#d8601e" stroke-width="0.85"/>
<circle cx="103" cy="117.81" r="2.5" fill="none" stroke="#d8601e" stroke-width="0.85"/>
<circle cx="104" cy="119.63" r="2.5" fill="none" stroke="#d8601e" stroke-width="0.85"/>
<circle cx="105" cy="121.34" r="2.5" fill="none" stroke="#d8601e" stroke-width="0.85"/>
<circle cx="106" cy="122.96" r="2.5" fill="none" stroke="#d8601e" stroke-width="0.85"/>
<circle cx="107" cy="124.52" r="2.5" fill="none" stroke="#d8601e" stroke-width="0.85"/>
<circle cx="108" cy="126" r="2.5" fill="none" stroke="#d8601e" stroke-width="0.85"/>
<circle cx="109" cy="127.37" r="2.5" fill="none" stroke="#d8601e" stroke-width="0.85"/>
<circle cx="110" cy="128.63" r="2.5" fill="none" stroke="#d8601e" stroke-width="0.85"/>
<circle cx="111" cy="129.82" r="2.5" fill="none" stroke="#d8601e" stroke-width="0.85"/>
<circle cx="112" cy="130.95" r="2.5" fill="none" stroke="#d8601e" stroke-width="0.85"/>
<circle cx="113" cy="132.01" r="2.5" fill="none" stroke="#d8601e" stroke-width="0.85"/>
<circle cx="114" cy="132.96" r="2.5" fill="none" stroke="#d8601e" stroke-width="0.85"/>
<circle cx="115" cy="133.77" r="2.5" fill="none" stroke="#d8601e" stroke-width="0.85"/>
<circle cx="116" cy="134.31" r="2.5" fill="none" stroke="#d8601e" stroke-width="0.85"/>
<circle cx="117" cy="134.65" r="2.5" fill="none" stroke="#d8601e" stroke-width="0.85"/>
<circle cx="118" cy="134.87" r="2.5" fill="none" stroke="#d8601e" stroke-width="0.85"/>
<circle cx="119" cy="134.97" r="2.5" fill="none" stroke="#d8601e" stroke-width="0.85"/>
<circle cx="120" cy="135.01" r="2.5" fill="none" stroke="#d8601e" stroke-width="0.85"/>
<circle cx="121" cy="134.99" r="2.5" fill="none" stroke="#d8601e" stroke-width="0.85"/>
<circle cx="122" cy="134.93" r="2.5" fill="none" stroke="#d8601e" stroke-width="0.85"/>
<circle cx="123" cy="134.81" r="2.5" fill="none" stroke="#d8601e" stroke-width="0.85"/>
<circle cx="124" cy="134.62" r="2.5" fill="none" stroke="#d8601e" stroke-width="0.85"/>
<circle cx="125" cy="134.33" r="2.5" fill="none" stroke="#d8601e" stroke-width="0.85"/>
<circle cx="126" cy="133.96" r="2.5" fill="none" stroke="#d8601e" stroke-width="0.85"/>
<circle cx="127" cy="133.5" r="2.5" fill="none" stroke="#d8601e" stroke-width="0.85"/>
<circle cx="128" cy="132.99" r="2.5" fill="none" stroke="#d8601e" stroke-width="0.85"/>
<circle cx="129" cy="132.45" r="2.5" fill="none" stroke="#d8601e" stroke-width="0.85"/>
<circle cx="130" cy="131.9" r="2.5" fill="none" stroke="#d8601e" stroke-width="0.85"/>
<circle cx="131" cy="131.36" r="2.5" fill="none" stroke="#d8601e" stroke-width="0.85"/>
<circle cx="132" cy="130.85" r="2.5" fill="none" stroke="#d8601e" stroke-width="0.85"/>
<circle cx="133" cy="130.36" r="2.5" fill="none" stroke="#d8601e" stroke-width="0.85"/>
<circle cx="134" cy="129.88" r="2.5" fill="none" stroke="#d8601e" stroke-width="0.85"/>
<circle cx="135" cy="129.4" r="2.5" fill="none" stroke="#d8601e" stroke-width="0.85"/>
<circle cx="136" cy="128.91" r="2.5" fill="none" stroke="#d8601e" stroke-width="0.85"/>
<circle cx="137" cy="128.4" r="2.5" fill="none" stroke="#d8601e" stroke-width="0.85"/>
<circle cx="138" cy="127.86" r="2.5" fill="none" stroke="#d8601e" stroke-width="0.85"/>
<circle cx="139" cy="127.28" r="2.5" fill="none" stroke="#d8601e" stroke-width="0.85"/>
<circle cx="140" cy="126.68" r="2.5" fill="none" stroke="#d8601e" stroke-width="0.85"/>
<circle cx="141" cy="126.07" r="2.5" fill="none" stroke="#d8601e" stroke-width="0.85"/>
<circle cx="142" cy="125.44" r="2.5" fill="none" stroke="#d8601e" stroke-width="0.85"/>
<circle cx="143" cy="124.78" r="2.5" fill="none" stroke="#d8601e" stroke-width="0.85"/>
<circle cx="144" cy="124.09" r="2.5" fill="none" stroke="#d8601e" stroke-width="0.85"/>
<circle cx="145" cy="123.36" r="2.5" fill="none" stroke="#d8601e" stroke-width="0.85"/>
<circle cx="146" cy="122.43" r="2.5" fill="none" stroke="#d8601e" stroke-width="0.85"/>
<circle cx="147" cy="120.03" r="2.5" fill="none" stroke="#d8601e" stroke-width="0.85"/>
<circle cx="148" cy="116.37" r="2.5" fill="none" stroke="#d8601e" stroke-width="0.85"/>
<circle cx="149" cy="113.8" r="2.5" fill="none" stroke="#d8601e" stroke-width="0.85"/>
<circle cx="150" cy="111.46" r="2.5" fill="none" stroke="#d8601e" stroke-width="0.85"/>
<circle cx="151" cy="109.16" r="2.5" fill="none" stroke="#d8601e" stroke-width="0.85"/>
<circle cx="152" cy="106.84" r="2.5" fill="none" stroke="#d8601e" stroke-width="0.85"/>
<circle cx="153" cy="104.42" r="2.5" fill="none" stroke="#d8601e" stroke-width="0.85"/>
<circle cx="154" cy="101.95" r="2.5" fill="none" stroke="#d8601e" stroke-width="0.85"/>
<circle cx="155" cy="99.52" r="2.5" fill="none" stroke="#d8601e" stroke-width="0.85"/>
<circle cx="156" cy="97.22" r="2.5" fill="none" stroke="#d8601e" stroke-width="0.85"/>
<circle cx="157" cy="95.08" r="2.5" fill="none" stroke="#d8601e" stroke-width="0.85"/>
<circle cx="158" cy="93.05" r="2.5" fill="none" stroke="#d8601e" stroke-width="0.85"/>
<circle cx="159" cy="91.13" r="2.5" fill="none" stroke="#d8601e" stroke-width="0.85"/>
<circle cx="160" cy="89.28" r="2.5" fill="none" stroke="#d8601e" stroke-width="0.85"/>
<circle cx="161" cy="87.47" r="2.5" fill="none" stroke="#d8601e" stroke-width="0.85"/>
<circle cx="162" cy="85.69" r="2.5" fill="none" stroke="#d8601e" stroke-width="0.85"/>
<circle cx="163" cy="84.1" r="2.5" fill="none" stroke="#d8601e" stroke-width="0.85"/>
<circle cx="164" cy="82.8" r="2.5" fill="none" stroke="#d8601e" stroke-width="0.85"/>
<circle cx="165" cy="81.83" r="2.5" fill="none" stroke="#d8601e" stroke-width="0.85"/>
<circle cx="166" cy="81.1" r="2.5" fill="none" stroke="#d8601e" stroke-width="0.85"/>
<circle cx="167" cy="80.63" r="2.5" fill="none" stroke="#d8601e" stroke-width="0.85"/>
<circle cx="168" cy="80.4" r="2.5" fill="none" stroke="#d8601e" stroke-width="0.85"/>
<circle cx="169" cy="80.43" r="2.5" fill="none" stroke="#d8601e" stroke-width="0.85"/>
<circle cx="170" cy="80.68" r="2.5" fill="none" stroke="#d8601e" stroke-width="0.85"/>
<circle cx="171" cy="81.17" r="2.5" fill="none" stroke="#d8601e" stroke-width="0.85"/>
<circle cx="172" cy="82" r="2.5" fill="none" stroke="#d8601e" stroke-width="0.85"/>
<circle cx="173" cy="83.4" r="2.5" fill="none" stroke="#d8601e" stroke-width="0.85"/>
<circle cx="174" cy="85.75" r="2.5" fill="none" stroke="#d8601e" stroke-width="0.85"/>
<circle cx="175" cy="88.82" r="2.5" fill="none" stroke="#d8601e" stroke-width="0.85"/>
<circle cx="176" cy="92.66" r="2.5" fill="none" stroke="#d8601e" stroke-width="0.85"/>
<circle cx="177" cy="96.6" r="2.5" fill="none" stroke="#d8601e" stroke-width="0.85"/>
<circle cx="178" cy="100" r="2.5" fill="none" stroke="#d8601e" stroke-width="0.85"/>
<circle cx="179" cy="102.67" r="2.5" fill="none" stroke="#d8601e" stroke-width="0.85"/>
<circle cx="180" cy="105.01" r="2.5" fill="none" stroke="#d8601e" stroke-width="0.85"/>
<circle cx="181" cy="107.23" r="2.5" fill="none" stroke="#d8601e" stroke-width="0.85"/>
<circle cx="182" cy="109.52" r="2.5" fill="none" stroke="#d8601e" stroke-width="0.85"/>
<circle cx="183" cy="112" r="2.5" fill="none" stroke="#d8601e" stroke-width="0.85"/>
<circle cx="184" cy="114.57" r="2.5" fill="none" stroke="#d8601e" stroke-width="0.85"/>
<circle cx="185" cy="117.13" r="2.5" fill="none" stroke="#d8601e" stroke-width="0.85"/>
<circle cx="186" cy="119.58" r="2.5" fill="none" stroke="#d8601e" stroke-width="0.85"/>
<circle cx="187" cy="121.84" r="2.5" fill="none" stroke="#d8601e" stroke-width="0.85"/>
<circle cx="188" cy="124.01" r="2.5" fill="none" stroke="#d8601e" stroke-width="0.85"/>
<circle cx="189" cy="126.03" r="2.5" fill="none" stroke="#d8601e" stroke-width="0.85"/>
<circle cx="190" cy="127.85" r="2.5" fill="none" stroke="#d8601e" stroke-width="0.85"/>
<circle cx="191" cy="129.41" r="2.5" fill="none" stroke="#d8601e" stroke-width="0.85"/>
<circle cx="192" cy="130.8" r="2.5" fill="none" stroke="#d8601e" stroke-width="0.85"/>
<circle cx="193" cy="131.97" r="2.5" fill="none" stroke="#d8601e" stroke-width="0.85"/>
<circle cx="194" cy="132.91" r="2.5" fill="none" stroke="#d8601e" stroke-width="0.85"/>
<circle cx="195" cy="133.62" r="2.5" fill="none" stroke="#d8601e" stroke-width="0.85"/>
<circle cx="196" cy="134.07" r="2.5" fill="none" stroke="#d8601e" stroke-width="0.85"/>
<circle cx="197" cy="134.36" r="2.5" fill="none" stroke="#d8601e" stroke-width="0.85"/>
<circle cx="198" cy="134.52" r="2.5" fill="none" stroke="#d8601e" stroke-width="0.85"/>
<circle cx="199" cy="134.6" r="2.5" fill="none" stroke="#d8601e" stroke-width="0.85"/>
<circle cx="200" cy="134.54" r="2.5" fill="none" stroke="#d8601e" stroke-width="0.85"/>
<circle cx="201" cy="134.31" r="2.5" fill="none" stroke="#d8601e" stroke-width="0.85"/>
<circle cx="202" cy="134.04" r="2.5" fill="none" stroke="#d8601e" stroke-width="0.85"/>
<circle cx="203" cy="133.83" r="2.5" fill="none" stroke="#d8601e" stroke-width="0.85"/>
<circle cx="204" cy="133.7" r="2.5" fill="none" stroke="#d8601e" stroke-width="0.85"/>
<circle cx="205" cy="133.57" r="2.5" fill="none" stroke="#d8601e" stroke-width="0.85"/>
<circle cx="206" cy="133.47" r="2.5" fill="none" stroke="#d8601e" stroke-width="0.85"/>
<circle cx="207" cy="133.42" r="2.5" fill="none" stroke="#d8601e" stroke-width="0.85"/>
<circle cx="208" cy="133.45" r="2.5" fill="none" stroke="#d8601e" stroke-width="0.85"/>
<circle cx="209" cy="133.58" r="2.5" fill="none" stroke="#d8601e" stroke-width="0.85"/>
<circle cx="210" cy="133.81" r="2.5" fill="none" stroke="#d8601e" stroke-width="0.85"/>
<circle cx="211" cy="134.11" r="2.5" fill="none" stroke="#d8601e" stroke-width="0.85"/>
<circle cx="212" cy="134.48" r="2.5" fill="none" stroke="#d8601e" stroke-width="0.85"/>
<circle cx="213" cy="134.92" r="2.5" fill="none" stroke="#d8601e" stroke-width="0.85"/>
<circle cx="214" cy="135.41" r="2.5" fill="none" stroke="#d8601e" stroke-width="0.85"/>
<circle cx="215" cy="136.02" r="2.5" fill="none" stroke="#d8601e" stroke-width="0.85"/>
<circle cx="216" cy="136.73" r="2.5" fill="none" stroke="#d8601e" stroke-width="0.85"/>
<circle cx="217" cy="137.47" r="2.5" fill="none" stroke="#d8601e" stroke-width="0.85"/>
<circle cx="218" cy="138.15" r="2.5" fill="none" stroke="#d8601e" stroke-width="0.85"/>
<circle cx="219" cy="138.74" r="2.5" fill="none" stroke="#d8601e" stroke-width="0.85"/>
<circle cx="220" cy="139.26" r="2.5" fill="none" stroke="#d8601e" stroke-width="0.85"/>
<circle cx="221" cy="139.75" r="2.5" fill="none" stroke="#d8601e" stroke-width="0.85"/>
<circle cx="222" cy="140.21" r="2.5" fill="none" stroke="#d8601e" stroke-width="0.85"/>
<circle cx="223" cy="140.66" r="2.5" fill="none" stroke="#d8601e" stroke-width="0.85"/>
<circle cx="224" cy="141.09" r="2.5" fill="none" stroke="#d8601e" stroke-width="0.85"/>
<circle cx="225" cy="141.51" r="2.5" fill="none" stroke="#d8601e" stroke-width="0.85"/>
<circle cx="226" cy="141.91" r="2.5" fill="none" stroke="#d8601e" stroke-width="0.85"/>
<circle cx="227" cy="142.3" r="2.5" fill="none" stroke="#d8601e" stroke-width="0.85"/>
<circle cx="228" cy="142.67" r="2.5" fill="none" stroke="#d8601e" stroke-width="0.85"/>
<circle cx="229" cy="143.02" r="2.5" fill="none" stroke="#d8601e" stroke-width="0.85"/>
<circle cx="230" cy="143.35" r="2.5" fill="none" stroke="#d8601e" stroke-width="0.85"/>
<circle cx="231" cy="143.66" r="2.5" fill="none" stroke="#d8601e" stroke-width="0.85"/>
<circle cx="232" cy="143.95" r="2.5" fill="none" stroke="#d8601e" stroke-width="0.85"/>
<circle cx="233" cy="144.22" r="2.5" fill="none" stroke="#d8601e" stroke-width="0.85"/>
<circle cx="234" cy="144.47" r="2.5" fill="none" stroke="#d8601e" stroke-width="0.85"/>
<circle cx="235" cy="144.71" r="2.5" fill="none" stroke="#d8601e" stroke-width="0.85"/>
<circle cx="236" cy="144.92" r="2.5" fill="none" stroke="#d8601e" stroke-width="0.85"/>
<circle cx="237" cy="145.11" r="2.5" fill="none" stroke="#d8601e" stroke-width="0.85"/>
<circle cx="238" cy="145.29" r="2.5" fill="none" stroke="#d8601e" stroke-width="0.85"/>
<circle cx="239" cy="145.46" r="2.5" fill="none" stroke="#d8601e" stroke-width="0.85"/>
<circle cx="240" cy="145.62" r="2.5" fill="none" stroke="#d8601e" stroke-width="0.85"/>
<circle cx="241" cy="145.78" r="2.5" fill="none" stroke="#d8601e" stroke-width="0.85"/>
<circle cx="242" cy="145.93" r="2.5" fill="none" stroke="#d8601e" stroke-width="0.85"/>
<path d="M21,145 L21.07,145 L21.1,145 L21.12,145 L21.15,145 L21.22,144.99 L21.34,144.99 L21.55,144.98 L21.86,144.96 L22.3,144.93 L22.9,144.9 L23.68,144.86 L24.63,144.8 L25.71,144.75 L26.91,144.68 L28.19,144.61 L29.51,144.54 L30.84,144.46 L32.15,144.38 L33.42,144.29 L34.6,144.2 L35.72,144.11 L36.83,144.02 L37.93,143.92 L39.01,143.82 L40.09,143.72 L41.17,143.61 L42.25,143.49 L43.33,143.37 L44.41,143.24 L45.5,143.1 L46.63,142.95 L47.8,142.8 L49,142.65 L50.21,142.48 L51.41,142.31 L52.57,142.13 L53.68,141.94 L54.72,141.74 L55.67,141.53 L56.5,141.3 L57.21,141.06 L57.8,140.8 L58.31,140.52 L58.74,140.23 L59.11,139.94 L59.46,139.63 L59.79,139.33 L60.13,139.02 L60.49,138.71 L60.9,138.4 L61.34,138.09 L61.78,137.77 L62.21,137.45 L62.65,137.12 L63.09,136.79 L63.53,136.47 L63.97,136.14 L64.41,135.82 L64.85,135.51 L65.3,135.2 L65.75,134.9 L66.2,134.6 L66.66,134.31 L67.12,134.02 L67.58,133.74 L68.04,133.46 L68.5,133.18 L68.96,132.92 L69.43,132.65 L69.9,132.4 L70.38,132.16 L70.86,131.95 L71.35,131.76 L71.85,131.57 L72.34,131.38 L72.84,131.19 L73.32,130.98 L73.79,130.75 L74.26,130.49 L74.7,130.2 L75.13,129.88 L75.54,129.54 L75.94,129.19 L76.32,128.83 L76.71,128.44 L77.08,128.03 L77.46,127.59 L77.83,127.12 L78.21,126.63 L78.6,126.1 L78.99,125.53 L79.38,124.9 L79.77,124.24 L80.16,123.54 L80.55,122.83 L80.94,122.1 L81.33,121.37 L81.72,120.66 L82.11,119.96 L82.5,119.3 L82.89,118.66 L83.28,118.01 L83.67,117.37 L84.06,116.74 L84.46,116.12 L84.85,115.51 L85.24,114.91 L85.63,114.32 L86.01,113.75 L86.4,113.2 L86.79,112.66 L87.18,112.13 L87.57,111.61 L87.96,111.1 L88.35,110.61 L88.74,110.13 L89.11,109.68 L89.49,109.26 L89.85,108.86 L90.2,108.5 L90.53,108.16 L90.85,107.85 L91.15,107.55 L91.44,107.28 L91.73,107.04 L92.02,106.82 L92.32,106.64 L92.63,106.49 L92.95,106.38 L93.3,106.3 L93.67,106.26 L94.06,106.27 L94.47,106.31 L94.89,106.38 L95.31,106.48 L95.74,106.61 L96.17,106.77 L96.59,106.96 L97,107.17 L97.4,107.4 L97.79,107.66 L98.18,107.95 L98.56,108.28 L98.94,108.64 L99.31,109.01 L99.68,109.41 L100.05,109.82 L100.4,110.24 L100.76,110.67 L101.1,111.1 L101.43,111.54 L101.76,112 L102.07,112.48 L102.38,112.97 L102.69,113.47 L102.99,113.98 L103.29,114.48 L103.59,114.99 L103.89,115.5 L104.2,116 L104.51,116.5 L104.82,117 L105.13,117.51 L105.44,118.03 L105.75,118.54 L106.06,119.05 L106.37,119.55 L106.68,120.04 L106.99,120.53 L107.3,121 L107.61,121.46 L107.92,121.91 L108.23,122.36 L108.54,122.8 L108.85,123.23 L109.16,123.66 L109.47,124.08 L109.78,124.49 L110.09,124.9 L110.4,125.3 L110.71,125.7 L111.02,126.1 L111.33,126.5 L111.64,126.9 L111.96,127.28 L112.27,127.66 L112.58,128.02 L112.89,128.37 L113.19,128.69 L113.5,129 L113.8,129.3 L114.1,129.59 L114.4,129.88 L114.69,130.15 L114.99,130.41 L115.28,130.64 L115.58,130.84 L115.88,131 L116.19,131.12 L116.5,131.2 L116.81,131.22 L117.13,131.17 L117.45,131.07 L117.76,130.94 L118.09,130.77 L118.42,130.6 L118.75,130.42 L119.09,130.26 L119.44,130.11 L119.8,130 L120.17,129.91 L120.56,129.83 L120.95,129.74 L121.35,129.67 L121.76,129.6 L122.17,129.54 L122.58,129.49 L122.99,129.45 L123.4,129.42 L123.8,129.4 L124.19,129.41 L124.58,129.47 L124.95,129.55 L125.33,129.64 L125.71,129.74 L126.09,129.82 L126.49,129.88 L126.9,129.91 L127.34,129.89 L127.8,129.8 L128.29,129.65 L128.79,129.45 L129.31,129.21 L129.85,128.93 L130.4,128.63 L130.96,128.3 L131.54,127.97 L132.12,127.64 L132.71,127.31 L133.3,127 L133.91,126.69 L134.55,126.37 L135.21,126.04 L135.88,125.7 L136.55,125.36 L137.22,125.03 L137.88,124.7 L138.51,124.38 L139.12,124.08 L139.7,123.8 L140.24,123.54 L140.77,123.29 L141.27,123.06 L141.76,122.84 L142.22,122.63 L142.68,122.42 L143.12,122.22 L143.56,122.02 L143.98,121.81 L144.4,121.6 L144.81,121.39 L145.21,121.18 L145.6,120.98 L145.97,120.77 L146.34,120.57 L146.69,120.36 L147.04,120.16 L147.37,119.94 L147.69,119.73 L148,119.5 L148.29,119.28 L148.56,119.08 L148.81,118.88 L149.05,118.68 L149.28,118.47 L149.5,118.25 L149.73,118 L149.97,117.71 L150.23,117.38 L150.5,117 L150.79,116.57 L151.08,116.11 L151.38,115.62 L151.69,115.09 L152.01,114.54 L152.33,113.95 L152.66,113.33 L153,112.68 L153.34,112.01 L153.7,111.3 L154.07,110.56 L154.45,109.76 L154.84,108.94 L155.24,108.07 L155.65,107.19 L156.06,106.28 L156.47,105.36 L156.89,104.44 L157.3,103.52 L157.7,102.6 L158.1,101.67 L158.51,100.7 L158.93,99.71 L159.34,98.71 L159.76,97.71 L160.16,96.72 L160.57,95.75 L160.96,94.81 L161.34,93.93 L161.7,93.1 L162.04,92.32 L162.37,91.57 L162.68,90.85 L162.98,90.16 L163.28,89.5 L163.57,88.87 L163.86,88.28 L164.16,87.72 L164.47,87.19 L164.8,86.7 L165.14,86.24 L165.49,85.8 L165.84,85.38 L166.2,85 L166.57,84.66 L166.94,84.35 L167.3,84.09 L167.67,83.87 L168.04,83.71 L168.4,83.6 L168.76,83.55 L169.14,83.57 L169.51,83.64 L169.89,83.76 L170.26,83.92 L170.63,84.12 L170.99,84.34 L171.34,84.59 L171.68,84.84 L172,85.1 L172.3,85.37 L172.58,85.67 L172.84,85.99 L173.1,86.34 L173.34,86.7 L173.59,87.08 L173.83,87.49 L174.08,87.91 L174.33,88.35 L174.6,88.8 L174.88,89.27 L175.15,89.77 L175.43,90.29 L175.71,90.82 L176,91.38 L176.29,91.94 L176.58,92.52 L176.88,93.11 L177.19,93.7 L177.5,94.3 L177.82,94.9 L178.13,95.48 L178.45,96.08 L178.78,96.67 L179.11,97.29 L179.45,97.92 L179.8,98.58 L180.15,99.28 L180.52,100.02 L180.9,100.8 L181.29,101.64 L181.7,102.52 L182.13,103.45 L182.56,104.41 L183,105.4 L183.44,106.41 L183.89,107.43 L184.33,108.46 L184.77,109.48 L185.2,110.5 L185.63,111.53 L186.05,112.59 L186.48,113.67 L186.9,114.76 L187.32,115.86 L187.75,116.94 L188.17,118.01 L188.58,119.05 L188.99,120.05 L189.4,121 L189.8,121.92 L190.19,122.82 L190.58,123.69 L190.96,124.55 L191.34,125.38 L191.72,126.17 L192.1,126.94 L192.49,127.66 L192.89,128.35 L193.3,129 L193.71,129.61 L194.13,130.2 L194.55,130.75 L194.97,131.27 L195.4,131.75 L195.84,132.19 L196.28,132.59 L196.74,132.94 L197.21,133.25 L197.7,133.5 L198.21,133.68 L198.73,133.79 L199.28,133.83 L199.83,133.82 L200.39,133.78 L200.96,133.72 L201.53,133.64 L202.1,133.57 L202.65,133.52 L203.2,133.5 L203.74,133.49 L204.27,133.47 L204.8,133.44 L205.33,133.41 L205.86,133.39 L206.39,133.37 L206.92,133.37 L207.44,133.38 L207.97,133.43 L208.5,133.5 L209.03,133.6 L209.56,133.72 L210.09,133.85 L210.62,134.01 L211.15,134.18 L211.68,134.37 L212.21,134.58 L212.74,134.8 L213.27,135.04 L213.8,135.3 L214.32,135.58 L214.82,135.89 L215.31,136.23 L215.8,136.58 L216.29,136.94 L216.79,137.32 L217.32,137.7 L217.87,138.07 L218.46,138.44 L219.1,138.8 L219.79,139.16 L220.53,139.52 L221.3,139.89 L222.11,140.26 L222.94,140.63 L223.77,140.99 L224.61,141.35 L225.43,141.68 L226.23,142 L227,142.3 L227.74,142.58 L228.47,142.84 L229.19,143.08 L229.9,143.32 L230.61,143.54 L231.31,143.75 L232,143.95 L232.7,144.14 L233.4,144.32 L234.1,144.5 L234.83,144.67 L235.59,144.84 L236.37,144.99 L237.15,145.14 L237.93,145.28 L238.67,145.4 L239.38,145.52 L240.03,145.62 L240.61,145.72 L241.1,145.8 L241.51,145.87 L241.84,145.91 L242.1,145.95 L242.32,145.97 L242.49,145.98 L242.62,145.99 L242.73,145.99 L242.82,145.99 L242.91,145.99 L243,146" fill="none" stroke="#8f3010" stroke-width="2.5" stroke-linejoin="round" stroke-linecap="round"/>
</g>
<rect x="20.8" y="0.7" width="222.2" height="148.8" fill="none" stroke="#111" stroke-width="1.3"/>
<line x1="70.2" y1="149.5" x2="70.2" y2="141.5" stroke="#111" stroke-width="1.3"/>
<text x="70.2" y="166" font-size="11.96" text-anchor="middle">1</text>
<line x1="119.6" y1="149.5" x2="119.6" y2="141.5" stroke="#111" stroke-width="1.3"/>
<text x="119.6" y="166" font-size="11.96" text-anchor="middle">2</text>
<line x1="169" y1="149.5" x2="169" y2="141.5" stroke="#111" stroke-width="1.3"/>
<text x="169" y="166" font-size="11.96" text-anchor="middle">3</text>
<line x1="218.4" y1="149.5" x2="218.4" y2="141.5" stroke="#111" stroke-width="1.3"/>
<text x="218.4" y="166" font-size="11.96" text-anchor="middle">4</text>
<text x="95.6" y="182.5" font-size="13.52" textLength="107.4" lengthAdjust="spacingAndGlyphs">Radial distance (Å)</text>
<text transform="translate(12,89.4) rotate(-90)" font-size="13.8" fill="#111" textLength="52.6" lengthAdjust="spacingAndGlyphs">|&#160;<tspan font-style="italic">χ</tspan>(<tspan font-style="italic">R</tspan>)&#160;|&#160;&#160;Å<tspan font-size="9.6" dy="-4">-3</tspan></text>
<text x="31.2" y="21.8" font-size="13.52" textLength="49" lengthAdjust="spacingAndGlyphs">CuCr<tspan font-size="9.73" dy="3.79">2</tspan><tspan dy="-3.79">O</tspan><tspan font-size="9.73" dy="3.79">4</tspan></text>
<text x="31.2" y="37" font-size="13.52" textLength="27.2" lengthAdjust="spacingAndGlyphs">Cu <tspan font-style="italic">K</tspan></text>
<text x="29.3" y="99.5" font-size="13.52" textLength="45.6" lengthAdjust="spacingAndGlyphs"><tspan font-style="italic">A</tspan><tspan font-size="9.73" dy="-4.46">5</tspan><tspan dy="4.46">Cr</tspan><tspan font-size="9.73" dy="3.79">2</tspan><tspan dy="-3.79">O</tspan><tspan font-size="9.73" dy="3.79">4</tspan></text>
<text x="30.6" y="114" font-size="13.52" textLength="26" lengthAdjust="spacingAndGlyphs">Cu <tspan font-style="italic">K</tspan></text>
<circle cx="209.3" cy="16.6" r="4.8" fill="none" stroke="#6e68d2" stroke-width="0.9"/><circle cx="209.3" cy="16.6" r="0.5" fill="#6e68d2"/>
<text x="216.9" y="21.1" font-size="11.96" textLength="23.8" lengthAdjust="spacingAndGlyphs">Data</text>
<line x1="194.4" y1="35.6" x2="224.1" y2="35.6" stroke="#461482" stroke-width="2.3"/>
<text x="228.6" y="39.9" font-size="11.96" textLength="12" lengthAdjust="spacingAndGlyphs">Fit</text>
<circle cx="207.3" cy="87.6" r="4.8" fill="none" stroke="#d65a1c" stroke-width="0.9"/><circle cx="207.3" cy="87.6" r="0.5" fill="#d65a1c"/>
<text x="217.9" y="92.2" font-size="11.96" textLength="23.8" lengthAdjust="spacingAndGlyphs">Data</text>
<line x1="192.8" y1="106.3" x2="221.9" y2="106.3" stroke="#8f3010" stroke-width="2.3"/>
<text x="226.5" y="110.7" font-size="11.96" textLength="12" lengthAdjust="spacingAndGlyphs">Fit</text>
<text x="42.3" y="204.3" font-size="13.0" textLength="207.6" lengthAdjust="spacingAndGlyphs">First neighbor distance <tspan font-style="italic">A</tspan>-O (EXAFS)</text>
<rect x="48" y="211.5" width="194.7" height="124.5" fill="none" stroke="#111" stroke-width="1.3"/>
<line x1="48" y1="328.04" x2="56.5" y2="328.04" stroke="#111" stroke-width="1.3"/>
<line x1="242.7" y1="328.04" x2="234.2" y2="328.04" stroke="#111" stroke-width="1.3"/>
<line x1="48" y1="309.98" x2="52.5" y2="309.98" stroke="#111" stroke-width="1.3"/>
<line x1="242.7" y1="309.98" x2="238.2" y2="309.98" stroke="#111" stroke-width="1.3"/>
<line x1="48" y1="291.92" x2="56.5" y2="291.92" stroke="#111" stroke-width="1.3"/>
<line x1="242.7" y1="291.92" x2="234.2" y2="291.92" stroke="#111" stroke-width="1.3"/>
<line x1="48" y1="273.86" x2="52.5" y2="273.86" stroke="#111" stroke-width="1.3"/>
<line x1="242.7" y1="273.86" x2="238.2" y2="273.86" stroke="#111" stroke-width="1.3"/>
<line x1="48" y1="255.8" x2="56.5" y2="255.8" stroke="#111" stroke-width="1.3"/>
<line x1="242.7" y1="255.8" x2="234.2" y2="255.8" stroke="#111" stroke-width="1.3"/>
<line x1="48" y1="237.74" x2="52.5" y2="237.74" stroke="#111" stroke-width="1.3"/>
<line x1="242.7" y1="237.74" x2="238.2" y2="237.74" stroke="#111" stroke-width="1.3"/>
<line x1="48" y1="219.68" x2="56.5" y2="219.68" stroke="#111" stroke-width="1.3"/>
<line x1="242.7" y1="219.68" x2="234.2" y2="219.68" stroke="#111" stroke-width="1.3"/>
<text x="43.3" y="332.99" font-size="11.96" text-anchor="end">1.92</text>
<text x="43.3" y="296.87" font-size="11.96" text-anchor="end">1.96</text>
<text x="43.3" y="260.75" font-size="11.96" text-anchor="end">2.00</text>
<text x="43.3" y="224.63" font-size="11.96" text-anchor="end">2.04</text>
<line x1="67" y1="336" x2="67" y2="328" stroke="#111" stroke-width="1.3"/>
<text x="67" y="362.2" font-size="13.21" text-anchor="middle">Mn-O</text>
<line x1="106" y1="336" x2="106" y2="328" stroke="#111" stroke-width="1.3"/>
<text x="106" y="362.2" font-size="13.21" text-anchor="middle">Co-O</text>
<line x1="145" y1="336" x2="145" y2="328" stroke="#111" stroke-width="1.3"/>
<text x="145" y="362.2" font-size="13.21" text-anchor="middle">Ni-O</text>
<line x1="184" y1="336" x2="184" y2="328" stroke="#111" stroke-width="1.3"/>
<text x="184" y="362.2" font-size="13.21" text-anchor="middle">Cu-O</text>
<line x1="223" y1="336" x2="223" y2="328" stroke="#111" stroke-width="1.3"/>
<text x="223" y="362.2" font-size="13.21" text-anchor="middle">Zn-O</text>
<text transform="translate(11.6,321.2) rotate(-90)" font-size="13.2" fill="#111" textLength="94" lengthAdjust="spacingAndGlyphs">Bond Length (Å)</text>
<line x1="67" y1="255.8" x2="67" y2="237.74" stroke="#1469af" stroke-width="1.5"/>
<line x1="63.9" y1="255.8" x2="70.1" y2="255.8" stroke="#1469af" stroke-width="1.5"/>
<line x1="63.9" y1="237.74" x2="70.1" y2="237.74" stroke="#1469af" stroke-width="1.5"/>
<circle cx="67" cy="246.77" r="4.3" fill="#1469af"/>
<line x1="106" y1="300.95" x2="106" y2="282.89" stroke="#1469af" stroke-width="1.5"/>
<line x1="102.9" y1="300.95" x2="109.1" y2="300.95" stroke="#1469af" stroke-width="1.5"/>
<line x1="102.9" y1="282.89" x2="109.1" y2="282.89" stroke="#1469af" stroke-width="1.5"/>
<circle cx="106" cy="291.92" r="4.3" fill="#1469af"/>
<line x1="145" y1="300.95" x2="145" y2="282.89" stroke="#1469af" stroke-width="1.5"/>
<line x1="141.9" y1="300.95" x2="148.1" y2="300.95" stroke="#1469af" stroke-width="1.5"/>
<line x1="141.9" y1="282.89" x2="148.1" y2="282.89" stroke="#1469af" stroke-width="1.5"/>
<circle cx="145" cy="291.92" r="4.3" fill="#1469af"/>
<line x1="184" y1="307.27" x2="184" y2="294.63" stroke="#1469af" stroke-width="1.5"/>
<line x1="180.9" y1="307.27" x2="187.1" y2="307.27" stroke="#1469af" stroke-width="1.5"/>
<line x1="180.9" y1="294.63" x2="187.1" y2="294.63" stroke="#1469af" stroke-width="1.5"/>
<circle cx="184" cy="300.95" r="4.3" fill="#1469af"/>
<line x1="223" y1="309.98" x2="223" y2="273.86" stroke="#1469af" stroke-width="1.5"/>
<line x1="219.9" y1="309.98" x2="226.1" y2="309.98" stroke="#1469af" stroke-width="1.5"/>
<line x1="219.9" y1="273.86" x2="226.1" y2="273.86" stroke="#1469af" stroke-width="1.5"/>
<circle cx="223" cy="291.92" r="4.3" fill="#1469af"/>
<line x1="67" y1="300.95" x2="67" y2="264.83" stroke="#f5502d" stroke-width="1.5"/>
<line x1="63.9" y1="300.95" x2="70.1" y2="300.95" stroke="#f5502d" stroke-width="1.5"/>
<line x1="63.9" y1="264.83" x2="70.1" y2="264.83" stroke="#f5502d" stroke-width="1.5"/>
<rect x="62.7" y="278.59" width="8.6" height="8.6" rx="0.8" fill="#f5502d"/>
<line x1="106" y1="309.98" x2="106" y2="291.92" stroke="#f5502d" stroke-width="1.5"/>
<line x1="102.9" y1="309.98" x2="109.1" y2="309.98" stroke="#f5502d" stroke-width="1.5"/>
<line x1="102.9" y1="291.92" x2="109.1" y2="291.92" stroke="#f5502d" stroke-width="1.5"/>
<rect x="101.7" y="296.65" width="8.6" height="8.6" rx="0.8" fill="#f5502d"/>
<line x1="145" y1="309.98" x2="145" y2="291.92" stroke="#f5502d" stroke-width="1.5"/>
<line x1="141.9" y1="309.98" x2="148.1" y2="309.98" stroke="#f5502d" stroke-width="1.5"/>
<line x1="141.9" y1="291.92" x2="148.1" y2="291.92" stroke="#f5502d" stroke-width="1.5"/>
<rect x="140.7" y="296.65" width="8.6" height="8.6" rx="0.8" fill="#f5502d"/>
<line x1="184" y1="309.98" x2="184" y2="291.92" stroke="#f5502d" stroke-width="1.5"/>
<line x1="180.9" y1="309.98" x2="187.1" y2="309.98" stroke="#f5502d" stroke-width="1.5"/>
<line x1="180.9" y1="291.92" x2="187.1" y2="291.92" stroke="#f5502d" stroke-width="1.5"/>
<rect x="179.7" y="296.65" width="8.6" height="8.6" rx="0.8" fill="#f5502d"/>
<line x1="223" y1="319.01" x2="223" y2="282.89" stroke="#f5502d" stroke-width="1.5"/>
<line x1="219.9" y1="319.01" x2="226.1" y2="319.01" stroke="#f5502d" stroke-width="1.5"/>
<line x1="219.9" y1="282.89" x2="226.1" y2="282.89" stroke="#f5502d" stroke-width="1.5"/>
<rect x="218.7" y="296.65" width="8.6" height="8.6" rx="0.8" fill="#f5502d"/>
<circle cx="97.3" cy="229.9" r="4.6" fill="#1469af"/>
<text x="110.2" y="235.8" font-size="11.96" textLength="104.8" lengthAdjust="spacingAndGlyphs">Parent Compounds</text>
<rect x="92.9" y="238.8" width="8.8" height="8.8" rx="0.8" fill="#f5502d"/>
<text x="109.7" y="248" font-size="11.96" textLength="40.8" lengthAdjust="spacingAndGlyphs"><tspan font-style="italic">A</tspan><tspan font-size="8.61" dy="-3.95">5</tspan><tspan dy="3.95">Cr</tspan><tspan font-size="8.61" dy="3.35">2</tspan><tspan dy="-3.35">O</tspan><tspan font-size="8.61" dy="3.35">4</tspan></text>
<text x="27.4" y="393.9" font-size="13.0" textLength="229.2" lengthAdjust="spacingAndGlyphs">Second neighbor distance <tspan font-style="italic">A</tspan>-Cr (EXAFS)</text>
<rect x="45.3" y="400" width="197.7" height="129.2" fill="none" stroke="#111" stroke-width="1.3"/>
<line x1="45.3" y1="529.2" x2="56.8" y2="529.2" stroke="#111" stroke-width="1.3"/>
<line x1="243" y1="529.2" x2="231.5" y2="529.2" stroke="#111" stroke-width="1.3"/>
<line x1="45.3" y1="522.74" x2="51.3" y2="522.74" stroke="#111" stroke-width="1.3"/>
<line x1="243" y1="522.74" x2="237" y2="522.74" stroke="#111" stroke-width="1.3"/>
<line x1="45.3" y1="516.28" x2="51.3" y2="516.28" stroke="#111" stroke-width="1.3"/>
<line x1="243" y1="516.28" x2="237" y2="516.28" stroke="#111" stroke-width="1.3"/>
<line x1="45.3" y1="509.82" x2="51.3" y2="509.82" stroke="#111" stroke-width="1.3"/>
<line x1="243" y1="509.82" x2="237" y2="509.82" stroke="#111" stroke-width="1.3"/>
<line x1="45.3" y1="503.36" x2="51.3" y2="503.36" stroke="#111" stroke-width="1.3"/>
<line x1="243" y1="503.36" x2="237" y2="503.36" stroke="#111" stroke-width="1.3"/>
<line x1="45.3" y1="496.9" x2="56.8" y2="496.9" stroke="#111" stroke-width="1.3"/>
<line x1="243" y1="496.9" x2="231.5" y2="496.9" stroke="#111" stroke-width="1.3"/>
<line x1="45.3" y1="490.44" x2="51.3" y2="490.44" stroke="#111" stroke-width="1.3"/>
<line x1="243" y1="490.44" x2="237" y2="490.44" stroke="#111" stroke-width="1.3"/>
<line x1="45.3" y1="483.98" x2="51.3" y2="483.98" stroke="#111" stroke-width="1.3"/>
<line x1="243" y1="483.98" x2="237" y2="483.98" stroke="#111" stroke-width="1.3"/>
<line x1="45.3" y1="477.52" x2="51.3" y2="477.52" stroke="#111" stroke-width="1.3"/>
<line x1="243" y1="477.52" x2="237" y2="477.52" stroke="#111" stroke-width="1.3"/>
<line x1="45.3" y1="471.06" x2="51.3" y2="471.06" stroke="#111" stroke-width="1.3"/>
<line x1="243" y1="471.06" x2="237" y2="471.06" stroke="#111" stroke-width="1.3"/>
<line x1="45.3" y1="464.6" x2="56.8" y2="464.6" stroke="#111" stroke-width="1.3"/>
<line x1="243" y1="464.6" x2="231.5" y2="464.6" stroke="#111" stroke-width="1.3"/>
<line x1="45.3" y1="458.14" x2="51.3" y2="458.14" stroke="#111" stroke-width="1.3"/>
<line x1="243" y1="458.14" x2="237" y2="458.14" stroke="#111" stroke-width="1.3"/>
<line x1="45.3" y1="451.68" x2="51.3" y2="451.68" stroke="#111" stroke-width="1.3"/>
<line x1="243" y1="451.68" x2="237" y2="451.68" stroke="#111" stroke-width="1.3"/>
<line x1="45.3" y1="445.22" x2="51.3" y2="445.22" stroke="#111" stroke-width="1.3"/>
<line x1="243" y1="445.22" x2="237" y2="445.22" stroke="#111" stroke-width="1.3"/>
<line x1="45.3" y1="438.76" x2="51.3" y2="438.76" stroke="#111" stroke-width="1.3"/>
<line x1="243" y1="438.76" x2="237" y2="438.76" stroke="#111" stroke-width="1.3"/>
<line x1="45.3" y1="432.3" x2="56.8" y2="432.3" stroke="#111" stroke-width="1.3"/>
<line x1="243" y1="432.3" x2="231.5" y2="432.3" stroke="#111" stroke-width="1.3"/>
<line x1="45.3" y1="425.84" x2="51.3" y2="425.84" stroke="#111" stroke-width="1.3"/>
<line x1="243" y1="425.84" x2="237" y2="425.84" stroke="#111" stroke-width="1.3"/>
<line x1="45.3" y1="419.38" x2="51.3" y2="419.38" stroke="#111" stroke-width="1.3"/>
<line x1="243" y1="419.38" x2="237" y2="419.38" stroke="#111" stroke-width="1.3"/>
<line x1="45.3" y1="412.92" x2="51.3" y2="412.92" stroke="#111" stroke-width="1.3"/>
<line x1="243" y1="412.92" x2="237" y2="412.92" stroke="#111" stroke-width="1.3"/>
<line x1="45.3" y1="406.46" x2="51.3" y2="406.46" stroke="#111" stroke-width="1.3"/>
<line x1="243" y1="406.46" x2="237" y2="406.46" stroke="#111" stroke-width="1.3"/>
<line x1="45.3" y1="400" x2="56.8" y2="400" stroke="#111" stroke-width="1.3"/>
<line x1="243" y1="400" x2="231.5" y2="400" stroke="#111" stroke-width="1.3"/>
<text x="38.8" y="534.15" font-size="11.96" text-anchor="end">3.2</text>
<text x="38.8" y="501.85" font-size="11.96" text-anchor="end">3.3</text>
<text x="38.8" y="469.55" font-size="11.96" text-anchor="end">3.4</text>
<text x="38.8" y="437.25" font-size="11.96" text-anchor="end">3.5</text>
<text x="38.8" y="404.95" font-size="11.96" text-anchor="end">3.6</text>
<line x1="65.3" y1="529.2" x2="65.3" y2="521.2" stroke="#111" stroke-width="1.3"/>
<text x="65.3" y="553.7" font-size="13.21" text-anchor="middle">Mn-O</text>
<line x1="104.8" y1="529.2" x2="104.8" y2="521.2" stroke="#111" stroke-width="1.3"/>
<text x="104.8" y="553.7" font-size="13.21" text-anchor="middle">Co-O</text>
<line x1="144.3" y1="529.2" x2="144.3" y2="521.2" stroke="#111" stroke-width="1.3"/>
<text x="144.3" y="553.7" font-size="13.21" text-anchor="middle">Ni-O</text>
<line x1="183.8" y1="529.2" x2="183.8" y2="521.2" stroke="#111" stroke-width="1.3"/>
<text x="183.8" y="553.7" font-size="13.21" text-anchor="middle">Cu-O</text>
<line x1="223.3" y1="529.2" x2="223.3" y2="521.2" stroke="#111" stroke-width="1.3"/>
<text x="223.3" y="553.7" font-size="13.21" text-anchor="middle">Zn-O</text>
<text transform="translate(11.6,512.6) rotate(-90)" font-size="13.2" fill="#111" textLength="93" lengthAdjust="spacingAndGlyphs">Bond Length (Å)</text>
<line x1="183.8" y1="435.53" x2="183.8" y2="416.15" stroke="#6cb4dc" stroke-width="1.5"/>
<line x1="181.3" y1="435.53" x2="186.3" y2="435.53" stroke="#6cb4dc" stroke-width="1.5"/>
<line x1="181.3" y1="416.15" x2="186.3" y2="416.15" stroke="#6cb4dc" stroke-width="1.5"/>
<circle cx="183.8" cy="425.84" r="3.3" fill="#fff" stroke="#6cb4dc" stroke-width="1.6"/>
<line x1="183.8" y1="513.05" x2="183.8" y2="500.13" stroke="#6cb4dc" stroke-width="1.5"/>
<line x1="181.3" y1="513.05" x2="186.3" y2="513.05" stroke="#6cb4dc" stroke-width="1.5"/>
<line x1="181.3" y1="500.13" x2="186.3" y2="500.13" stroke="#6cb4dc" stroke-width="1.5"/>
<circle cx="183.8" cy="506.59" r="3.3" fill="#fff" stroke="#6cb4dc" stroke-width="1.6"/>
<circle cx="65.3" cy="429.07" r="4.3" fill="#1469af"/>
<line x1="104.8" y1="448.45" x2="104.8" y2="441.99" stroke="#1469af" stroke-width="1.5"/>
<line x1="101.7" y1="448.45" x2="107.9" y2="448.45" stroke="#1469af" stroke-width="1.5"/>
<line x1="101.7" y1="441.99" x2="107.9" y2="441.99" stroke="#1469af" stroke-width="1.5"/>
<circle cx="104.8" cy="445.22" r="4.3" fill="#1469af"/>
<line x1="144.3" y1="454.91" x2="144.3" y2="435.53" stroke="#1469af" stroke-width="1.5"/>
<line x1="141.2" y1="454.91" x2="147.4" y2="454.91" stroke="#1469af" stroke-width="1.5"/>
<line x1="141.2" y1="435.53" x2="147.4" y2="435.53" stroke="#1469af" stroke-width="1.5"/>
<circle cx="144.3" cy="445.22" r="4.3" fill="#1469af"/>
<line x1="183.8" y1="464.6" x2="183.8" y2="438.76" stroke="#1469af" stroke-width="1.5"/>
<line x1="180.7" y1="464.6" x2="186.9" y2="464.6" stroke="#1469af" stroke-width="1.5"/>
<line x1="180.7" y1="438.76" x2="186.9" y2="438.76" stroke="#1469af" stroke-width="1.5"/>
<circle cx="183.8" cy="451.68" r="4.3" fill="#1469af"/>
<line x1="223.3" y1="445.22" x2="223.3" y2="432.3" stroke="#1469af" stroke-width="1.5"/>
<line x1="220.2" y1="445.22" x2="226.4" y2="445.22" stroke="#1469af" stroke-width="1.5"/>
<line x1="220.2" y1="432.3" x2="226.4" y2="432.3" stroke="#1469af" stroke-width="1.5"/>
<circle cx="223.3" cy="438.76" r="4.3" fill="#1469af"/>
<line x1="65.3" y1="454.91" x2="65.3" y2="435.53" stroke="#f5502d" stroke-width="1.5"/>
<line x1="62.2" y1="454.91" x2="68.4" y2="454.91" stroke="#f5502d" stroke-width="1.5"/>
<line x1="62.2" y1="435.53" x2="68.4" y2="435.53" stroke="#f5502d" stroke-width="1.5"/>
<rect x="61" y="440.92" width="8.6" height="8.6" rx="0.8" fill="#f5502d"/>
<line x1="104.8" y1="448.45" x2="104.8" y2="435.53" stroke="#f5502d" stroke-width="1.5"/>
<line x1="101.7" y1="448.45" x2="107.9" y2="448.45" stroke="#f5502d" stroke-width="1.5"/>
<line x1="101.7" y1="435.53" x2="107.9" y2="435.53" stroke="#f5502d" stroke-width="1.5"/>
<rect x="100.5" y="437.69" width="8.6" height="8.6" rx="0.8" fill="#f5502d"/>
<line x1="144.3" y1="451.68" x2="144.3" y2="438.76" stroke="#f5502d" stroke-width="1.5"/>
<line x1="141.2" y1="451.68" x2="147.4" y2="451.68" stroke="#f5502d" stroke-width="1.5"/>
<line x1="141.2" y1="438.76" x2="147.4" y2="438.76" stroke="#f5502d" stroke-width="1.5"/>
<rect x="140" y="440.92" width="8.6" height="8.6" rx="0.8" fill="#f5502d"/>
<line x1="183.8" y1="451.68" x2="183.8" y2="438.76" stroke="#f5502d" stroke-width="1.5"/>
<line x1="180.7" y1="451.68" x2="186.9" y2="451.68" stroke="#f5502d" stroke-width="1.5"/>
<line x1="180.7" y1="438.76" x2="186.9" y2="438.76" stroke="#f5502d" stroke-width="1.5"/>
<rect x="179.5" y="440.92" width="8.6" height="8.6" rx="0.8" fill="#f5502d"/>
<line x1="223.3" y1="448.45" x2="223.3" y2="435.53" stroke="#f5502d" stroke-width="1.5"/>
<line x1="220.2" y1="448.45" x2="226.4" y2="448.45" stroke="#f5502d" stroke-width="1.5"/>
<line x1="220.2" y1="435.53" x2="226.4" y2="435.53" stroke="#f5502d" stroke-width="1.5"/>
<rect x="219" y="437.69" width="8.6" height="8.6" rx="0.8" fill="#f5502d"/>
<circle cx="89.3" cy="476.5" r="4.7" fill="#1469af"/>
<text x="101.5" y="481.8" font-size="11.96" textLength="104.8" lengthAdjust="spacingAndGlyphs">Parent Compounds</text>
<rect x="84.9" y="483.9" width="9" height="9" rx="0.8" fill="#f5502d"/>
<text x="101" y="493.5" font-size="11.96" textLength="41.3" lengthAdjust="spacingAndGlyphs"><tspan font-style="italic">A</tspan><tspan font-size="8.61" dy="-3.95">5</tspan><tspan dy="3.95">Cr</tspan><tspan font-size="8.61" dy="3.35">2</tspan><tspan dy="-3.35">O</tspan><tspan font-size="8.61" dy="3.35">4</tspan></text>
<line x1="295" y1="108.2" x2="303.5" y2="108.2" stroke="#111" stroke-width="1.3"/>
<line x1="459" y1="108.2" x2="450.5" y2="108.2" stroke="#111" stroke-width="1.3"/>
<text x="290.5" y="113" font-size="11.44" text-anchor="end">0</text>
<line x1="295" y1="73.3" x2="303.5" y2="73.3" stroke="#111" stroke-width="1.3"/>
<line x1="459" y1="73.3" x2="450.5" y2="73.3" stroke="#111" stroke-width="1.3"/>
<text x="290.5" y="78.1" font-size="11.44" text-anchor="end">100</text>
<line x1="295" y1="38.4" x2="303.5" y2="38.4" stroke="#111" stroke-width="1.3"/>
<line x1="459" y1="38.4" x2="450.5" y2="38.4" stroke="#111" stroke-width="1.3"/>
<text x="290.5" y="43.2" font-size="11.44" text-anchor="end">200</text>
<line x1="295" y1="3.5" x2="303.5" y2="3.5" stroke="#111" stroke-width="1.3"/>
<line x1="459" y1="3.5" x2="450.5" y2="3.5" stroke="#111" stroke-width="1.3"/>
<text x="290.5" y="9.2" font-size="11.44" text-anchor="end">300</text>
<line x1="295" y1="211.9" x2="303.5" y2="211.9" stroke="#111" stroke-width="1.3"/>
<line x1="459" y1="211.9" x2="450.5" y2="211.9" stroke="#111" stroke-width="1.3"/>
<text x="290.5" y="216.7" font-size="11.44" text-anchor="end">0</text>
<line x1="295" y1="166.05" x2="303.5" y2="166.05" stroke="#111" stroke-width="1.3"/>
<line x1="459" y1="166.05" x2="450.5" y2="166.05" stroke="#111" stroke-width="1.3"/>
<text x="290.5" y="170.85" font-size="11.44" text-anchor="end">200</text>
<line x1="295" y1="120.2" x2="303.5" y2="120.2" stroke="#111" stroke-width="1.3"/>
<line x1="459" y1="120.2" x2="450.5" y2="120.2" stroke="#111" stroke-width="1.3"/>
<text x="290.5" y="125" font-size="11.44" text-anchor="end">400</text>
<line x1="295" y1="315.8" x2="303.5" y2="315.8" stroke="#111" stroke-width="1.3"/>
<line x1="459" y1="315.8" x2="450.5" y2="315.8" stroke="#111" stroke-width="1.3"/>
<text x="290.5" y="320.6" font-size="11.44" text-anchor="end">0</text>
<line x1="295" y1="286.27" x2="303.5" y2="286.27" stroke="#111" stroke-width="1.3"/>
<line x1="459" y1="286.27" x2="450.5" y2="286.27" stroke="#111" stroke-width="1.3"/>
<text x="290.5" y="291.07" font-size="11.44" text-anchor="end">100</text>
<line x1="295" y1="256.73" x2="303.5" y2="256.73" stroke="#111" stroke-width="1.3"/>
<line x1="459" y1="256.73" x2="450.5" y2="256.73" stroke="#111" stroke-width="1.3"/>
<text x="290.5" y="261.53" font-size="11.44" text-anchor="end">200</text>
<line x1="295" y1="227.2" x2="303.5" y2="227.2" stroke="#111" stroke-width="1.3"/>
<line x1="459" y1="227.2" x2="450.5" y2="227.2" stroke="#111" stroke-width="1.3"/>
<text x="290.5" y="232" font-size="11.44" text-anchor="end">300</text>
<line x1="295" y1="419.5" x2="303.5" y2="419.5" stroke="#111" stroke-width="1.3"/>
<line x1="459" y1="419.5" x2="450.5" y2="419.5" stroke="#111" stroke-width="1.3"/>
<text x="290.5" y="424.3" font-size="11.44" text-anchor="end">0</text>
<line x1="295" y1="390.83" x2="303.5" y2="390.83" stroke="#111" stroke-width="1.3"/>
<line x1="459" y1="390.83" x2="450.5" y2="390.83" stroke="#111" stroke-width="1.3"/>
<text x="290.5" y="395.63" font-size="11.44" text-anchor="end">50</text>
<line x1="295" y1="362.17" x2="303.5" y2="362.17" stroke="#111" stroke-width="1.3"/>
<line x1="459" y1="362.17" x2="450.5" y2="362.17" stroke="#111" stroke-width="1.3"/>
<text x="290.5" y="366.97" font-size="11.44" text-anchor="end">100</text>
<line x1="295" y1="333.5" x2="303.5" y2="333.5" stroke="#111" stroke-width="1.3"/>
<line x1="459" y1="333.5" x2="450.5" y2="333.5" stroke="#111" stroke-width="1.3"/>
<text x="290.5" y="338.3" font-size="11.44" text-anchor="end">150</text>
<line x1="295" y1="523" x2="303.5" y2="523" stroke="#111" stroke-width="1.3"/>
<line x1="459" y1="523" x2="450.5" y2="523" stroke="#111" stroke-width="1.3"/>
<text x="290.5" y="528.4" font-size="11.44" text-anchor="end">0</text>
<line x1="295" y1="493.63" x2="303.5" y2="493.63" stroke="#111" stroke-width="1.3"/>
<line x1="459" y1="493.63" x2="450.5" y2="493.63" stroke="#111" stroke-width="1.3"/>
<text x="290.5" y="498.43" font-size="11.44" text-anchor="end">100</text>
<line x1="295" y1="464.27" x2="303.5" y2="464.27" stroke="#111" stroke-width="1.3"/>
<line x1="459" y1="464.27" x2="450.5" y2="464.27" stroke="#111" stroke-width="1.3"/>
<text x="290.5" y="469.07" font-size="11.44" text-anchor="end">200</text>
<line x1="295" y1="434.9" x2="303.5" y2="434.9" stroke="#111" stroke-width="1.3"/>
<line x1="459" y1="434.9" x2="450.5" y2="434.9" stroke="#111" stroke-width="1.3"/>
<text x="290.5" y="439.7" font-size="11.44" text-anchor="end">300</text>
<line x1="336" y1="3" x2="336" y2="11.5" stroke="#111" stroke-width="1.3"/>
<line x1="336" y1="525" x2="336" y2="516.5" stroke="#111" stroke-width="1.3"/>
<line x1="377" y1="3" x2="377" y2="11.5" stroke="#111" stroke-width="1.3"/>
<line x1="377" y1="525" x2="377" y2="516.5" stroke="#111" stroke-width="1.3"/>
<line x1="418" y1="3" x2="418" y2="11.5" stroke="#111" stroke-width="1.3"/>
<line x1="418" y1="525" x2="418" y2="516.5" stroke="#111" stroke-width="1.3"/>
<line x1="315.5" y1="3" x2="315.5" y2="7.3" stroke="#111" stroke-width="1.3"/>
<line x1="315.5" y1="525" x2="315.5" y2="520.8" stroke="#111" stroke-width="1.3"/>
<line x1="356.5" y1="3" x2="356.5" y2="7.3" stroke="#111" stroke-width="1.3"/>
<line x1="356.5" y1="525" x2="356.5" y2="520.8" stroke="#111" stroke-width="1.3"/>
<line x1="397.5" y1="3" x2="397.5" y2="7.3" stroke="#111" stroke-width="1.3"/>
<line x1="397.5" y1="525" x2="397.5" y2="520.8" stroke="#111" stroke-width="1.3"/>
<line x1="438.5" y1="3" x2="438.5" y2="7.3" stroke="#111" stroke-width="1.3"/>
<line x1="438.5" y1="525" x2="438.5" y2="520.8" stroke="#111" stroke-width="1.3"/>
<line x1="295" y1="108.2" x2="459" y2="108.2" stroke="#e0732d" stroke-width="1.3"/>
<rect x="418.6" y="20.6" width="10.25" height="87.6" fill="#ebad82" stroke="#e0732d" stroke-width="1.25"/>
<rect x="428.85" y="36.45" width="10.25" height="71.75" fill="#ebad82" stroke="#e0732d" stroke-width="1.25"/>
<rect x="439.1" y="105.62" width="10.25" height="2.58" fill="#ebad82" stroke="#e0732d" stroke-width="1.25"/>
<line x1="295" y1="211.9" x2="459" y2="211.9" stroke="#8c5aaa" stroke-width="1.3"/>
<rect x="367.35" y="117.68" width="10.25" height="94.22" fill="#c3a8d2" stroke="#8c5aaa" stroke-width="1.25"/>
<rect x="377.6" y="189.2" width="10.25" height="22.7" fill="#c3a8d2" stroke="#8c5aaa" stroke-width="1.25"/>
<line x1="295" y1="315.8" x2="459" y2="315.8" stroke="#37a05f" stroke-width="1.3"/>
<rect x="357.1" y="269.55" width="10.25" height="46.25" fill="#96d0ac" stroke="#37a05f" stroke-width="1.25"/>
<rect x="367.35" y="223.07" width="10.25" height="92.73" fill="#96d0ac" stroke="#37a05f" stroke-width="1.25"/>
<rect x="377.6" y="304.31" width="10.25" height="11.49" fill="#96d0ac" stroke="#37a05f" stroke-width="1.25"/>
<line x1="295" y1="419.5" x2="459" y2="419.5" stroke="#c83296" stroke-width="1.3"/>
<rect x="295.6" y="414.91" width="10.25" height="4.59" fill="#e18cc3" stroke="#c83296" stroke-width="1.25"/>
<rect x="305.85" y="381.09" width="10.25" height="38.41" fill="#e18cc3" stroke="#c83296" stroke-width="1.25"/>
<rect x="316.1" y="414.91" width="10.25" height="4.59" fill="#e18cc3" stroke="#c83296" stroke-width="1.25"/>
<rect x="336.6" y="414.91" width="10.25" height="4.59" fill="#e18cc3" stroke="#c83296" stroke-width="1.25"/>
<rect x="346.85" y="405.74" width="10.25" height="13.76" fill="#e18cc3" stroke="#c83296" stroke-width="1.25"/>
<rect x="357.1" y="390.26" width="10.25" height="29.24" fill="#e18cc3" stroke="#c83296" stroke-width="1.25"/>
<rect x="367.35" y="390.26" width="10.25" height="29.24" fill="#e18cc3" stroke="#c83296" stroke-width="1.25"/>
<rect x="377.6" y="365.61" width="10.25" height="53.89" fill="#e18cc3" stroke="#c83296" stroke-width="1.25"/>
<rect x="387.85" y="333.5" width="10.25" height="86" fill="#e18cc3" stroke="#c83296" stroke-width="1.25"/>
<rect x="398.1" y="401.15" width="10.25" height="18.35" fill="#e18cc3" stroke="#c83296" stroke-width="1.25"/>
<rect x="408.35" y="418.93" width="10.25" height="0.57" fill="#e18cc3" stroke="#c83296" stroke-width="1.25"/>
<line x1="295" y1="523" x2="459" y2="523" stroke="#2896a0" stroke-width="1.3"/>
<rect x="326.35" y="516.83" width="10.25" height="6.17" fill="#8cc6ca" stroke="#2896a0" stroke-width="1.25"/>
<rect x="336.6" y="431.67" width="10.25" height="91.33" fill="#8cc6ca" stroke="#2896a0" stroke-width="1.25"/>
<rect x="346.85" y="472.2" width="10.25" height="50.8" fill="#8cc6ca" stroke="#2896a0" stroke-width="1.25"/>
<rect x="357.1" y="522.41" width="10.25" height="0.59" fill="#8cc6ca" stroke="#2896a0" stroke-width="1.25"/>
<rect x="295" y="3" width="164" height="522" fill="none" stroke="#111" stroke-width="1.4"/>
<text x="295" y="543.1" font-size="11.44" text-anchor="middle">1.88</text>
<text x="336" y="543.1" font-size="11.44" text-anchor="middle">1.92</text>
<text x="377" y="543.1" font-size="11.44" text-anchor="middle">1.96</text>
<text x="418" y="543.1" font-size="11.44" text-anchor="middle">2.00</text>
<text x="459" y="543.1" font-size="11.44" text-anchor="middle">2.04</text>
<text x="327.7" y="30.7" font-size="12.48" textLength="30.4" lengthAdjust="spacingAndGlyphs">(DFT)</text>
<text x="324.7" y="51" font-size="12.48" textLength="45.7" lengthAdjust="spacingAndGlyphs"><tspan font-style="italic">A</tspan><tspan font-size="8.69" dy="-3.98">5</tspan><tspan dy="3.98">Cr</tspan><tspan font-size="8.69" dy="3.38">2</tspan><tspan dy="-3.38">O</tspan><tspan font-size="8.69" dy="3.38">4</tspan></text>
<text x="317.7" y="82.4" font-size="12.48" textLength="29.5" lengthAdjust="spacingAndGlyphs">Mn-O</text>
<text x="309.7" y="96.6" font-size="12.48" textLength="44.2" lengthAdjust="spacingAndGlyphs">distance</text>
<text x="316.9" y="161.1" font-size="12.48" textLength="26.8" lengthAdjust="spacingAndGlyphs">Co-O</text>
<text x="307.6" y="174.4" font-size="12.48" textLength="45.2" lengthAdjust="spacingAndGlyphs">distance</text>
<text x="316.9" y="273.8" font-size="12.48" textLength="23.4" lengthAdjust="spacingAndGlyphs">Ni-O</text>
<text x="305.6" y="287" font-size="12.48" textLength="45.5" lengthAdjust="spacingAndGlyphs">distance</text>
<text x="413.4" y="375.9" font-size="12.48" textLength="26.8" lengthAdjust="spacingAndGlyphs">Cu-O</text>
<text x="403" y="390" font-size="12.48" textLength="45.1" lengthAdjust="spacingAndGlyphs">distance</text>
<text x="412.1" y="470" font-size="12.48" textLength="26.3" lengthAdjust="spacingAndGlyphs">Zn-O</text>
<text x="402.9" y="484" font-size="12.48" textLength="45.1" lengthAdjust="spacingAndGlyphs">distance</text>
<text x="333.8" y="563" font-size="13.52" textLength="94.2" lengthAdjust="spacingAndGlyphs">Bond Length (Å)</text>
<text transform="translate(265.3,287.8) rotate(-90)" font-size="14" fill="#111" textLength="41.4" lengthAdjust="spacingAndGlyphs">Counts</text>
<line x1="507.5" y1="108.2" x2="516" y2="108.2" stroke="#111" stroke-width="1.3"/>
<line x1="674.5" y1="108.2" x2="666" y2="108.2" stroke="#111" stroke-width="1.3"/>
<text x="502.5" y="113" font-size="11.44" text-anchor="end">0</text>
<line x1="507.5" y1="66.85" x2="516" y2="66.85" stroke="#111" stroke-width="1.3"/>
<line x1="674.5" y1="66.85" x2="666" y2="66.85" stroke="#111" stroke-width="1.3"/>
<text x="502.5" y="71.65" font-size="11.44" text-anchor="end">200</text>
<line x1="507.5" y1="25.5" x2="516" y2="25.5" stroke="#111" stroke-width="1.3"/>
<line x1="674.5" y1="25.5" x2="666" y2="25.5" stroke="#111" stroke-width="1.3"/>
<text x="502.5" y="30.3" font-size="11.44" text-anchor="end">400</text>
<line x1="507.5" y1="211.9" x2="516" y2="211.9" stroke="#111" stroke-width="1.3"/>
<line x1="674.5" y1="211.9" x2="666" y2="211.9" stroke="#111" stroke-width="1.3"/>
<text x="502.5" y="216.7" font-size="11.44" text-anchor="end">0</text>
<line x1="507.5" y1="170.55" x2="516" y2="170.55" stroke="#111" stroke-width="1.3"/>
<line x1="674.5" y1="170.55" x2="666" y2="170.55" stroke="#111" stroke-width="1.3"/>
<text x="502.5" y="175.35" font-size="11.44" text-anchor="end">200</text>
<line x1="507.5" y1="129.2" x2="516" y2="129.2" stroke="#111" stroke-width="1.3"/>
<line x1="674.5" y1="129.2" x2="666" y2="129.2" stroke="#111" stroke-width="1.3"/>
<text x="502.5" y="134" font-size="11.44" text-anchor="end">400</text>
<line x1="507.5" y1="315.8" x2="516" y2="315.8" stroke="#111" stroke-width="1.3"/>
<line x1="674.5" y1="315.8" x2="666" y2="315.8" stroke="#111" stroke-width="1.3"/>
<text x="502.5" y="320.6" font-size="11.44" text-anchor="end">0</text>
<line x1="507.5" y1="274.45" x2="516" y2="274.45" stroke="#111" stroke-width="1.3"/>
<line x1="674.5" y1="274.45" x2="666" y2="274.45" stroke="#111" stroke-width="1.3"/>
<text x="502.5" y="279.25" font-size="11.44" text-anchor="end">200</text>
<line x1="507.5" y1="233.1" x2="516" y2="233.1" stroke="#111" stroke-width="1.3"/>
<line x1="674.5" y1="233.1" x2="666" y2="233.1" stroke="#111" stroke-width="1.3"/>
<text x="502.5" y="237.9" font-size="11.44" text-anchor="end">400</text>
<line x1="507.5" y1="419.5" x2="516" y2="419.5" stroke="#111" stroke-width="1.3"/>
<line x1="674.5" y1="419.5" x2="666" y2="419.5" stroke="#111" stroke-width="1.3"/>
<text x="502.5" y="424.3" font-size="11.44" text-anchor="end">0</text>
<line x1="507.5" y1="378.15" x2="516" y2="378.15" stroke="#111" stroke-width="1.3"/>
<line x1="674.5" y1="378.15" x2="666" y2="378.15" stroke="#111" stroke-width="1.3"/>
<text x="502.5" y="382.95" font-size="11.44" text-anchor="end">200</text>
<line x1="507.5" y1="336.8" x2="516" y2="336.8" stroke="#111" stroke-width="1.3"/>
<line x1="674.5" y1="336.8" x2="666" y2="336.8" stroke="#111" stroke-width="1.3"/>
<text x="502.5" y="341.6" font-size="11.44" text-anchor="end">400</text>
<line x1="507.5" y1="523" x2="516" y2="523" stroke="#111" stroke-width="1.3"/>
<line x1="674.5" y1="523" x2="666" y2="523" stroke="#111" stroke-width="1.3"/>
<text x="502.5" y="528.4" font-size="11.44" text-anchor="end">0</text>
<line x1="507.5" y1="481.65" x2="516" y2="481.65" stroke="#111" stroke-width="1.3"/>
<line x1="674.5" y1="481.65" x2="666" y2="481.65" stroke="#111" stroke-width="1.3"/>
<text x="502.5" y="486.45" font-size="11.44" text-anchor="end">200</text>
<line x1="507.5" y1="440.3" x2="516" y2="440.3" stroke="#111" stroke-width="1.3"/>
<line x1="674.5" y1="440.3" x2="666" y2="440.3" stroke="#111" stroke-width="1.3"/>
<text x="502.5" y="445.1" font-size="11.44" text-anchor="end">400</text>
<line x1="549.25" y1="3" x2="549.25" y2="11.5" stroke="#111" stroke-width="1.3"/>
<line x1="549.25" y1="525" x2="549.25" y2="516.5" stroke="#111" stroke-width="1.3"/>
<line x1="591" y1="3" x2="591" y2="11.5" stroke="#111" stroke-width="1.3"/>
<line x1="591" y1="525" x2="591" y2="516.5" stroke="#111" stroke-width="1.3"/>
<line x1="632.75" y1="3" x2="632.75" y2="11.5" stroke="#111" stroke-width="1.3"/>
<line x1="632.75" y1="525" x2="632.75" y2="516.5" stroke="#111" stroke-width="1.3"/>
<line x1="507.5" y1="108.2" x2="674.5" y2="108.2" stroke="#e0732d" stroke-width="1.3"/>
<rect x="566.55" y="107.58" width="8.35" height="0.62" fill="#ebad82" stroke="#e0732d" stroke-width="1.25"/>
<rect x="574.9" y="105.59" width="8.35" height="2.61" fill="#ebad82" stroke="#e0732d" stroke-width="1.25"/>
<rect x="583.25" y="99.6" width="8.35" height="8.6" fill="#ebad82" stroke="#e0732d" stroke-width="1.25"/>
<rect x="591.6" y="87.11" width="8.35" height="21.09" fill="#ebad82" stroke="#e0732d" stroke-width="1.25"/>
<rect x="599.95" y="58.58" width="8.35" height="49.62" fill="#ebad82" stroke="#e0732d" stroke-width="1.25"/>
<rect x="608.3" y="35.63" width="8.35" height="72.57" fill="#ebad82" stroke="#e0732d" stroke-width="1.25"/>
<rect x="616.65" y="43.49" width="8.35" height="64.71" fill="#ebad82" stroke="#e0732d" stroke-width="1.25"/>
<rect x="625" y="69.12" width="8.35" height="39.08" fill="#ebad82" stroke="#e0732d" stroke-width="1.25"/>
<rect x="633.35" y="86.7" width="8.35" height="21.5" fill="#ebad82" stroke="#e0732d" stroke-width="1.25"/>
<rect x="641.7" y="103.65" width="8.35" height="4.55" fill="#ebad82" stroke="#e0732d" stroke-width="1.25"/>
<rect x="650.05" y="105.59" width="8.35" height="2.61" fill="#ebad82" stroke="#e0732d" stroke-width="1.25"/>
<line x1="507.5" y1="211.9" x2="674.5" y2="211.9" stroke="#8c5aaa" stroke-width="1.3"/>
<rect x="566.55" y="210.25" width="8.35" height="1.65" fill="#c3a8d2" stroke="#8c5aaa" stroke-width="1.25"/>
<rect x="574.9" y="201.77" width="8.35" height="10.13" fill="#c3a8d2" stroke="#8c5aaa" stroke-width="1.25"/>
<rect x="583.25" y="175.31" width="8.35" height="36.59" fill="#c3a8d2" stroke="#8c5aaa" stroke-width="1.25"/>
<rect x="591.6" y="114.73" width="8.35" height="97.17" fill="#c3a8d2" stroke="#8c5aaa" stroke-width="1.25"/>
<rect x="599.95" y="110.39" width="8.35" height="101.51" fill="#c3a8d2" stroke="#8c5aaa" stroke-width="1.25"/>
<rect x="608.3" y="162.49" width="8.35" height="49.41" fill="#c3a8d2" stroke="#8c5aaa" stroke-width="1.25"/>
<rect x="616.65" y="195.36" width="8.35" height="16.54" fill="#c3a8d2" stroke="#8c5aaa" stroke-width="1.25"/>
<rect x="625" y="208.59" width="8.35" height="3.31" fill="#c3a8d2" stroke="#8c5aaa" stroke-width="1.25"/>
<line x1="507.5" y1="315.8" x2="674.5" y2="315.8" stroke="#37a05f" stroke-width="1.3"/>
<rect x="541.5" y="315.18" width="8.35" height="0.62" fill="#96d0ac" stroke="#37a05f" stroke-width="1.25"/>
<rect x="549.85" y="313.4" width="8.35" height="2.4" fill="#96d0ac" stroke="#37a05f" stroke-width="1.25"/>
<rect x="558.2" y="309.39" width="8.35" height="6.41" fill="#96d0ac" stroke="#37a05f" stroke-width="1.25"/>
<rect x="566.55" y="305.67" width="8.35" height="10.13" fill="#96d0ac" stroke="#37a05f" stroke-width="1.25"/>
<rect x="574.9" y="289.34" width="8.35" height="26.46" fill="#96d0ac" stroke="#37a05f" stroke-width="1.25"/>
<rect x="583.25" y="266.39" width="8.35" height="49.41" fill="#96d0ac" stroke="#37a05f" stroke-width="1.25"/>
<rect x="591.6" y="248.4" width="8.35" height="67.4" fill="#96d0ac" stroke="#37a05f" stroke-width="1.25"/>
<rect x="599.95" y="254.6" width="8.35" height="61.2" fill="#96d0ac" stroke="#37a05f" stroke-width="1.25"/>
<rect x="608.3" y="268.25" width="8.35" height="47.55" fill="#96d0ac" stroke="#37a05f" stroke-width="1.25"/>
<rect x="616.65" y="292.23" width="8.35" height="23.57" fill="#96d0ac" stroke="#37a05f" stroke-width="1.25"/>
<rect x="625" y="305.67" width="8.35" height="10.13" fill="#96d0ac" stroke="#37a05f" stroke-width="1.25"/>
<rect x="633.35" y="313.19" width="8.35" height="2.61" fill="#96d0ac" stroke="#37a05f" stroke-width="1.25"/>
<line x1="507.5" y1="419.5" x2="674.5" y2="419.5" stroke="#c83296" stroke-width="1.3"/>
<rect x="524.8" y="418.47" width="8.35" height="1.03" fill="#e18cc3" stroke="#c83296" stroke-width="1.25"/>
<rect x="533.15" y="415.99" width="8.35" height="3.51" fill="#e18cc3" stroke="#c83296" stroke-width="1.25"/>
<rect x="541.5" y="412.06" width="8.35" height="7.44" fill="#e18cc3" stroke="#c83296" stroke-width="1.25"/>
<rect x="549.85" y="403.37" width="8.35" height="16.13" fill="#e18cc3" stroke="#c83296" stroke-width="1.25"/>
<rect x="558.2" y="394.28" width="8.35" height="25.22" fill="#e18cc3" stroke="#c83296" stroke-width="1.25"/>
<rect x="566.55" y="406.06" width="8.35" height="13.44" fill="#e18cc3" stroke="#c83296" stroke-width="1.25"/>
<rect x="574.9" y="407.3" width="8.35" height="12.2" fill="#e18cc3" stroke="#c83296" stroke-width="1.25"/>
<rect x="583.25" y="393.45" width="8.35" height="26.05" fill="#e18cc3" stroke="#c83296" stroke-width="1.25"/>
<rect x="591.6" y="377.12" width="8.35" height="42.38" fill="#e18cc3" stroke="#c83296" stroke-width="1.25"/>
<rect x="599.95" y="374.43" width="8.35" height="45.07" fill="#e18cc3" stroke="#c83296" stroke-width="1.25"/>
<rect x="608.3" y="370.09" width="8.35" height="49.41" fill="#e18cc3" stroke="#c83296" stroke-width="1.25"/>
<rect x="616.65" y="384.56" width="8.35" height="34.94" fill="#e18cc3" stroke="#c83296" stroke-width="1.25"/>
<rect x="625" y="397.17" width="8.35" height="22.33" fill="#e18cc3" stroke="#c83296" stroke-width="1.25"/>
<rect x="633.35" y="411.64" width="8.35" height="7.86" fill="#e18cc3" stroke="#c83296" stroke-width="1.25"/>
<rect x="641.7" y="418.05" width="8.35" height="1.45" fill="#e18cc3" stroke="#c83296" stroke-width="1.25"/>
<line x1="507.5" y1="523" x2="674.5" y2="523" stroke="#2896a0" stroke-width="1.3"/>
<rect x="558.2" y="520.93" width="8.35" height="2.07" fill="#8cc6ca" stroke="#2896a0" stroke-width="1.25"/>
<rect x="566.55" y="510.6" width="8.35" height="12.41" fill="#8cc6ca" stroke="#2896a0" stroke-width="1.25"/>
<rect x="574.9" y="481.65" width="8.35" height="41.35" fill="#8cc6ca" stroke="#2896a0" stroke-width="1.25"/>
<rect x="583.25" y="438.23" width="8.35" height="84.77" fill="#8cc6ca" stroke="#2896a0" stroke-width="1.25"/>
<rect x="591.6" y="425.21" width="8.35" height="97.79" fill="#8cc6ca" stroke="#2896a0" stroke-width="1.25"/>
<rect x="599.95" y="473.59" width="8.35" height="49.41" fill="#8cc6ca" stroke="#2896a0" stroke-width="1.25"/>
<rect x="608.3" y="504.81" width="8.35" height="18.19" fill="#8cc6ca" stroke="#2896a0" stroke-width="1.25"/>
<rect x="616.65" y="518.04" width="8.35" height="4.96" fill="#8cc6ca" stroke="#2896a0" stroke-width="1.25"/>
<rect x="625" y="521.35" width="8.35" height="1.65" fill="#8cc6ca" stroke="#2896a0" stroke-width="1.25"/>
<rect x="507.5" y="3" width="167" height="522" fill="none" stroke="#111" stroke-width="1.4"/>
<text x="507.5" y="543.1" font-size="11.44" text-anchor="middle">3.35</text>
<text x="549.25" y="543.1" font-size="11.44" text-anchor="middle">3.40</text>
<text x="591" y="543.1" font-size="11.44" text-anchor="middle">3.45</text>
<text x="632.75" y="543.1" font-size="11.44" text-anchor="middle">3.50</text>
<text x="674.5" y="543.1" font-size="11.44" text-anchor="middle">3.55</text>
<text x="542.5" y="30.7" font-size="12.48" textLength="30.7" lengthAdjust="spacingAndGlyphs">(DFT)</text>
<text x="539.5" y="51" font-size="12.48" textLength="46" lengthAdjust="spacingAndGlyphs"><tspan font-style="italic">A</tspan><tspan font-size="8.69" dy="-3.98">5</tspan><tspan dy="3.98">Cr</tspan><tspan font-size="8.69" dy="3.38">2</tspan><tspan dy="-3.38">O</tspan><tspan font-size="8.69" dy="3.38">4</tspan></text>
<text x="530.8" y="82.4" font-size="12.48" textLength="31.9" lengthAdjust="spacingAndGlyphs">Mn-Cr</text>
<text x="524.5" y="96.6" font-size="12.48" textLength="44.2" lengthAdjust="spacingAndGlyphs">distance</text>
<text x="530.3" y="161.1" font-size="12.48" textLength="29.8" lengthAdjust="spacingAndGlyphs">Co-Cr</text>
<text x="522.7" y="174.4" font-size="12.48" textLength="45" lengthAdjust="spacingAndGlyphs">distance</text>
<text x="529.2" y="273.8" font-size="12.48" textLength="27.6" lengthAdjust="spacingAndGlyphs">Ni-Cr</text>
<text x="520.7" y="287" font-size="12.48" textLength="44.8" lengthAdjust="spacingAndGlyphs">distance</text>
<text x="529.7" y="375.4" font-size="12.48" textLength="30.4" lengthAdjust="spacingAndGlyphs">Cu-Cr</text>
<text x="522.7" y="388.9" font-size="12.48" textLength="44.5" lengthAdjust="spacingAndGlyphs">distance</text>
<text x="530.6" y="470.6" font-size="12.48" textLength="28.7" lengthAdjust="spacingAndGlyphs">Zn-Cr</text>
<text x="523.5" y="483.8" font-size="12.48" textLength="44.2" lengthAdjust="spacingAndGlyphs">distance</text>
<text x="548.3" y="563.6" font-size="13.52" textLength="93.2" lengthAdjust="spacingAndGlyphs">Bond Length (Å)</text>
<text transform="translate(478.2,286.3) rotate(-90)" font-size="14" fill="#111" textLength="41.2" lengthAdjust="spacingAndGlyphs">Counts</text>
</svg></body></html>
